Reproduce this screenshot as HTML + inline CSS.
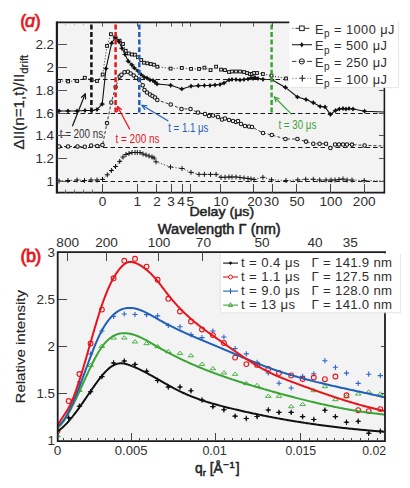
<!DOCTYPE html>
<html><head><meta charset="utf-8"><style>
html,body{margin:0;padding:0;background:#fff;width:410px;height:488px;overflow:hidden;position:relative;font-family:"Liberation Sans", sans-serif;}
</style></head><body>
<svg width="410" height="488" viewBox="0 0 410 488" style="position:absolute;left:0;top:0;font-family:'Liberation Sans', sans-serif">
<rect width="410" height="488" fill="#ffffff"/>
<rect x="57" y="23" width="327" height="170" fill="#f3f3f3"/>
<line x1="58" y1="79.5" x2="383" y2="79.5" stroke="#1a1a1a" stroke-width="1.1" stroke-dasharray="4.6 2.9"/>
<line x1="58" y1="113.5" x2="383" y2="113.5" stroke="#1a1a1a" stroke-width="1.1" stroke-dasharray="4.6 2.9"/>
<line x1="58" y1="147.5" x2="383" y2="147.5" stroke="#1a1a1a" stroke-width="1.1" stroke-dasharray="4.6 2.9"/>
<line x1="58" y1="181.5" x2="383" y2="181.5" stroke="#1a1a1a" stroke-width="1.1" stroke-dasharray="4.6 2.9"/>
<polyline points="59,181 68,180.5 77,180 84.5,180.5 91,180 97,180 102.5,179.4 107.3,174.8 111.4,170.5 115.5,166.5 119.7,161.4 123,157 126,154.5 129,153.5 132,152.5 135,152.5 137.3,152.5 140,152.5 143,154 146,155 149,156 152,157 154,158 156,161.8 170.5,167 182,168.5 191,172.4 199,174.4 204.4,174.4 210.5,174.4 216.1,174.4 221,177.3 225,177.3 229,177 232,177 236,177 240,177.5 244,178 248,178.5 251,179 254,179.5 262.9,177.3 271.5,179.8 286,180.5 297.8,179.9 305.7,179.3 313.3,179.3 319.7,180 326,180 331,180 335,180 339,179.5 343,179 347,180 352,180 364.2,180.5 384,181" fill="none" stroke="#333" stroke-width="0.9" stroke-dasharray="1.2 1.8"/>
<polyline points="59,146.5 68.1,146.5 77.5,146.5 84.8,146.8 91.2,145.5 97.3,146 102.5,145 107,123.1 111.3,102.4 115.6,87 119.6,76.6 121.4,74.8 124.5,72.3 127.9,71.7 130.6,73.5 133.7,75.4 136.2,77.8 139.2,79.7 142.7,85.3 144.5,90 147,92.5 150,94.5 152.5,96 155,97.5 157.3,100 170.7,104.5 181.5,108.9 190.5,109 198,112.5 205,114 209,116 213,115.5 218,117 222,119.5 225,118.5 229,120 233,121 236,122 238,121 241,124 245,126 249,126.5 252,127 263,133 271.8,135 285.4,139 297.4,139 306,141.6 313.3,143.8 319.6,143.8 326,143.8 330.4,147.9 335.1,144.4 339,144.4 343,144.4 347,144.4 352,144.6 364.6,145.4 384,146" fill="none" stroke="#222" stroke-width="0.9" stroke-dasharray="3 2"/>
<polyline points="59,81 68.1,81.4 77.1,81 84.8,77.8 91.7,80 97,81 102.7,74.5 107,45.9 110.9,34.2 115.3,37.3 119.6,40.7 123,44 125.7,50.8 128.8,53.5 131.9,54.5 134.9,54.7 138,57.2 141.2,60 144,62.7 147.3,63.3 150.7,64 154,64.7 157.3,66.7 170.6,68.6 181.8,67.9 191,68.9 199,68.9 204.4,67.7 210.5,70.1 216.1,66.7 221,69.6 225,70.1 229,72 232,71.5 236,71.5 240,71.5 244,72 247,73 250,74 252,74 254,73 257,73 262.9,74 271.5,75.7 286,78.5" fill="none" stroke="#333" stroke-width="0.9" stroke-dasharray="1.2 1.8"/>
<polyline points="59,111 68,111 77,111 85,110.5 91.7,110.5 97,109.5 102.2,104.1 106,68.6 111.6,43.2 115.3,37.3 119,41.6 122,48.3 125.1,54.5 128.2,61.2 131.9,64.9 134.3,68 138,71 141,74.5 144,77 147,78 150,80 153,80.5 155,82 157,84 170.7,85.3 181.8,89 191,86.2 198.3,85.7 204.4,85.5 210,85.5 215,85 220,84.5 224,83 229,80 232,79.5 236,79.5 240,80 244,79.5 248,79 251,78 253,78.5 255,77.5 258,78.5 263,79.3 271.5,79.5 285.4,87.4 297.4,97 306,99.5 313.3,102.7 320.2,106.5 325,107 330.4,114.4 335.5,110.6 339.3,109 343,108.5 346,109 349,108.5 353,109 364.6,111.2 384,112" fill="none" stroke="#111" stroke-width="1.1" />
<path d="M56.5,181h5M59,178.5v5" stroke="#151515" stroke-width="1"/>
<path d="M65.5,180.5h5M68,178v5" stroke="#151515" stroke-width="1"/>
<path d="M74.5,180h5M77,177.5v5" stroke="#151515" stroke-width="1"/>
<path d="M82,180.5h5M84.5,178v5" stroke="#151515" stroke-width="1"/>
<path d="M88.5,180h5M91,177.5v5" stroke="#151515" stroke-width="1"/>
<path d="M94.5,180h5M97,177.5v5" stroke="#151515" stroke-width="1"/>
<path d="M100,179.4h5M102.5,176.9v5" stroke="#151515" stroke-width="1"/>
<path d="M104.8,174.8h5M107.3,172.3v5" stroke="#151515" stroke-width="1"/>
<path d="M108.9,170.5h5M111.4,168v5" stroke="#151515" stroke-width="1"/>
<path d="M113,166.5h5M115.5,164v5" stroke="#151515" stroke-width="1"/>
<path d="M117.2,161.4h5M119.7,158.9v5" stroke="#151515" stroke-width="1"/>
<path d="M120.5,157h5M123,154.5v5" stroke="#151515" stroke-width="1"/>
<path d="M123.5,154.5h5M126,152v5" stroke="#151515" stroke-width="1"/>
<path d="M126.5,153.5h5M129,151v5" stroke="#151515" stroke-width="1"/>
<path d="M129.5,152.5h5M132,150v5" stroke="#151515" stroke-width="1"/>
<path d="M132.5,152.5h5M135,150v5" stroke="#151515" stroke-width="1"/>
<path d="M134.8,152.5h5M137.3,150v5" stroke="#151515" stroke-width="1"/>
<path d="M137.5,152.5h5M140,150v5" stroke="#151515" stroke-width="1"/>
<path d="M140.5,154h5M143,151.5v5" stroke="#151515" stroke-width="1"/>
<path d="M143.5,155h5M146,152.5v5" stroke="#151515" stroke-width="1"/>
<path d="M146.5,156h5M149,153.5v5" stroke="#151515" stroke-width="1"/>
<path d="M149.5,157h5M152,154.5v5" stroke="#151515" stroke-width="1"/>
<path d="M151.5,158h5M154,155.5v5" stroke="#151515" stroke-width="1"/>
<path d="M153.5,161.8h5M156,159.3v5" stroke="#151515" stroke-width="1"/>
<path d="M168,167h5M170.5,164.5v5" stroke="#151515" stroke-width="1"/>
<path d="M179.5,168.5h5M182,166v5" stroke="#151515" stroke-width="1"/>
<path d="M188.5,172.4h5M191,169.9v5" stroke="#151515" stroke-width="1"/>
<path d="M196.5,174.4h5M199,171.9v5" stroke="#151515" stroke-width="1"/>
<path d="M201.9,174.4h5M204.4,171.9v5" stroke="#151515" stroke-width="1"/>
<path d="M208,174.4h5M210.5,171.9v5" stroke="#151515" stroke-width="1"/>
<path d="M213.6,174.4h5M216.1,171.9v5" stroke="#151515" stroke-width="1"/>
<path d="M218.5,177.3h5M221,174.8v5" stroke="#151515" stroke-width="1"/>
<path d="M222.5,177.3h5M225,174.8v5" stroke="#151515" stroke-width="1"/>
<path d="M226.5,177h5M229,174.5v5" stroke="#151515" stroke-width="1"/>
<path d="M229.5,177h5M232,174.5v5" stroke="#151515" stroke-width="1"/>
<path d="M233.5,177h5M236,174.5v5" stroke="#151515" stroke-width="1"/>
<path d="M237.5,177.5h5M240,175v5" stroke="#151515" stroke-width="1"/>
<path d="M241.5,178h5M244,175.5v5" stroke="#151515" stroke-width="1"/>
<path d="M245.5,178.5h5M248,176v5" stroke="#151515" stroke-width="1"/>
<path d="M248.5,179h5M251,176.5v5" stroke="#151515" stroke-width="1"/>
<path d="M251.5,179.5h5M254,177v5" stroke="#151515" stroke-width="1"/>
<path d="M260.4,177.3h5M262.9,174.8v5" stroke="#151515" stroke-width="1"/>
<path d="M269,179.8h5M271.5,177.3v5" stroke="#151515" stroke-width="1"/>
<path d="M283.5,180.5h5M286,178v5" stroke="#151515" stroke-width="1"/>
<path d="M295.3,179.9h5M297.8,177.4v5" stroke="#151515" stroke-width="1"/>
<path d="M303.2,179.3h5M305.7,176.8v5" stroke="#151515" stroke-width="1"/>
<path d="M310.8,179.3h5M313.3,176.8v5" stroke="#151515" stroke-width="1"/>
<path d="M317.2,180h5M319.7,177.5v5" stroke="#151515" stroke-width="1"/>
<path d="M323.5,180h5M326,177.5v5" stroke="#151515" stroke-width="1"/>
<path d="M328.5,180h5M331,177.5v5" stroke="#151515" stroke-width="1"/>
<path d="M332.5,180h5M335,177.5v5" stroke="#151515" stroke-width="1"/>
<path d="M336.5,179.5h5M339,177v5" stroke="#151515" stroke-width="1"/>
<path d="M340.5,179h5M343,176.5v5" stroke="#151515" stroke-width="1"/>
<path d="M344.5,180h5M347,177.5v5" stroke="#151515" stroke-width="1"/>
<path d="M349.5,180h5M352,177.5v5" stroke="#151515" stroke-width="1"/>
<path d="M361.7,180.5h5M364.2,178v5" stroke="#151515" stroke-width="1"/>
<circle cx="59" cy="146.5" r="1.75" fill="#f3f3f3" stroke="#151515" stroke-width="1.05"/>
<circle cx="68.1" cy="146.5" r="1.75" fill="#f3f3f3" stroke="#151515" stroke-width="1.05"/>
<circle cx="77.5" cy="146.5" r="1.75" fill="#f3f3f3" stroke="#151515" stroke-width="1.05"/>
<circle cx="84.8" cy="146.8" r="1.75" fill="#f3f3f3" stroke="#151515" stroke-width="1.05"/>
<circle cx="91.2" cy="145.5" r="1.75" fill="#f3f3f3" stroke="#151515" stroke-width="1.05"/>
<circle cx="97.3" cy="146" r="1.75" fill="#f3f3f3" stroke="#151515" stroke-width="1.05"/>
<circle cx="102.5" cy="145" r="1.75" fill="#f3f3f3" stroke="#151515" stroke-width="1.05"/>
<circle cx="107" cy="123.1" r="1.75" fill="#f3f3f3" stroke="#151515" stroke-width="1.05"/>
<circle cx="111.3" cy="102.4" r="1.75" fill="#f3f3f3" stroke="#151515" stroke-width="1.05"/>
<circle cx="115.6" cy="87" r="1.75" fill="#f3f3f3" stroke="#151515" stroke-width="1.05"/>
<circle cx="119.6" cy="76.6" r="1.75" fill="#f3f3f3" stroke="#151515" stroke-width="1.05"/>
<circle cx="121.4" cy="74.8" r="1.75" fill="#f3f3f3" stroke="#151515" stroke-width="1.05"/>
<circle cx="124.5" cy="72.3" r="1.75" fill="#f3f3f3" stroke="#151515" stroke-width="1.05"/>
<circle cx="127.9" cy="71.7" r="1.75" fill="#f3f3f3" stroke="#151515" stroke-width="1.05"/>
<circle cx="130.6" cy="73.5" r="1.75" fill="#f3f3f3" stroke="#151515" stroke-width="1.05"/>
<circle cx="133.7" cy="75.4" r="1.75" fill="#f3f3f3" stroke="#151515" stroke-width="1.05"/>
<circle cx="136.2" cy="77.8" r="1.75" fill="#f3f3f3" stroke="#151515" stroke-width="1.05"/>
<circle cx="139.2" cy="79.7" r="1.75" fill="#f3f3f3" stroke="#151515" stroke-width="1.05"/>
<circle cx="142.7" cy="85.3" r="1.75" fill="#f3f3f3" stroke="#151515" stroke-width="1.05"/>
<circle cx="144.5" cy="90" r="1.75" fill="#f3f3f3" stroke="#151515" stroke-width="1.05"/>
<circle cx="147" cy="92.5" r="1.75" fill="#f3f3f3" stroke="#151515" stroke-width="1.05"/>
<circle cx="150" cy="94.5" r="1.75" fill="#f3f3f3" stroke="#151515" stroke-width="1.05"/>
<circle cx="152.5" cy="96" r="1.75" fill="#f3f3f3" stroke="#151515" stroke-width="1.05"/>
<circle cx="155" cy="97.5" r="1.75" fill="#f3f3f3" stroke="#151515" stroke-width="1.05"/>
<circle cx="157.3" cy="100" r="1.75" fill="#f3f3f3" stroke="#151515" stroke-width="1.05"/>
<circle cx="170.7" cy="104.5" r="1.75" fill="#f3f3f3" stroke="#151515" stroke-width="1.05"/>
<circle cx="181.5" cy="108.9" r="1.75" fill="#f3f3f3" stroke="#151515" stroke-width="1.05"/>
<circle cx="190.5" cy="109" r="1.75" fill="#f3f3f3" stroke="#151515" stroke-width="1.05"/>
<circle cx="198" cy="112.5" r="1.75" fill="#f3f3f3" stroke="#151515" stroke-width="1.05"/>
<circle cx="205" cy="114" r="1.75" fill="#f3f3f3" stroke="#151515" stroke-width="1.05"/>
<circle cx="209" cy="116" r="1.75" fill="#f3f3f3" stroke="#151515" stroke-width="1.05"/>
<circle cx="213" cy="115.5" r="1.75" fill="#f3f3f3" stroke="#151515" stroke-width="1.05"/>
<circle cx="218" cy="117" r="1.75" fill="#f3f3f3" stroke="#151515" stroke-width="1.05"/>
<circle cx="222" cy="119.5" r="1.75" fill="#f3f3f3" stroke="#151515" stroke-width="1.05"/>
<circle cx="225" cy="118.5" r="1.75" fill="#f3f3f3" stroke="#151515" stroke-width="1.05"/>
<circle cx="229" cy="120" r="1.75" fill="#f3f3f3" stroke="#151515" stroke-width="1.05"/>
<circle cx="233" cy="121" r="1.75" fill="#f3f3f3" stroke="#151515" stroke-width="1.05"/>
<circle cx="236" cy="122" r="1.75" fill="#f3f3f3" stroke="#151515" stroke-width="1.05"/>
<circle cx="238" cy="121" r="1.75" fill="#f3f3f3" stroke="#151515" stroke-width="1.05"/>
<circle cx="241" cy="124" r="1.75" fill="#f3f3f3" stroke="#151515" stroke-width="1.05"/>
<circle cx="245" cy="126" r="1.75" fill="#f3f3f3" stroke="#151515" stroke-width="1.05"/>
<circle cx="249" cy="126.5" r="1.75" fill="#f3f3f3" stroke="#151515" stroke-width="1.05"/>
<circle cx="252" cy="127" r="1.75" fill="#f3f3f3" stroke="#151515" stroke-width="1.05"/>
<circle cx="263" cy="133" r="1.75" fill="#f3f3f3" stroke="#151515" stroke-width="1.05"/>
<circle cx="271.8" cy="135" r="1.75" fill="#f3f3f3" stroke="#151515" stroke-width="1.05"/>
<circle cx="285.4" cy="139" r="1.75" fill="#f3f3f3" stroke="#151515" stroke-width="1.05"/>
<circle cx="297.4" cy="139" r="1.75" fill="#f3f3f3" stroke="#151515" stroke-width="1.05"/>
<circle cx="306" cy="141.6" r="1.75" fill="#f3f3f3" stroke="#151515" stroke-width="1.05"/>
<circle cx="313.3" cy="143.8" r="1.75" fill="#f3f3f3" stroke="#151515" stroke-width="1.05"/>
<circle cx="319.6" cy="143.8" r="1.75" fill="#f3f3f3" stroke="#151515" stroke-width="1.05"/>
<circle cx="326" cy="143.8" r="1.75" fill="#f3f3f3" stroke="#151515" stroke-width="1.05"/>
<circle cx="330.4" cy="147.9" r="1.75" fill="#f3f3f3" stroke="#151515" stroke-width="1.05"/>
<circle cx="335.1" cy="144.4" r="1.75" fill="#f3f3f3" stroke="#151515" stroke-width="1.05"/>
<circle cx="339" cy="144.4" r="1.75" fill="#f3f3f3" stroke="#151515" stroke-width="1.05"/>
<circle cx="343" cy="144.4" r="1.75" fill="#f3f3f3" stroke="#151515" stroke-width="1.05"/>
<circle cx="347" cy="144.4" r="1.75" fill="#f3f3f3" stroke="#151515" stroke-width="1.05"/>
<circle cx="352" cy="144.6" r="1.75" fill="#f3f3f3" stroke="#151515" stroke-width="1.05"/>
<circle cx="364.6" cy="145.4" r="1.75" fill="#f3f3f3" stroke="#151515" stroke-width="1.05"/>
<rect x="57.6" y="79.6" width="2.8" height="2.8" fill="#f3f3f3" stroke="#151515" stroke-width="1"/>
<rect x="66.7" y="80" width="2.8" height="2.8" fill="#f3f3f3" stroke="#151515" stroke-width="1"/>
<rect x="75.7" y="79.6" width="2.8" height="2.8" fill="#f3f3f3" stroke="#151515" stroke-width="1"/>
<rect x="83.4" y="76.4" width="2.8" height="2.8" fill="#f3f3f3" stroke="#151515" stroke-width="1"/>
<rect x="90.3" y="78.6" width="2.8" height="2.8" fill="#f3f3f3" stroke="#151515" stroke-width="1"/>
<rect x="95.6" y="79.6" width="2.8" height="2.8" fill="#f3f3f3" stroke="#151515" stroke-width="1"/>
<rect x="101.3" y="73.1" width="2.8" height="2.8" fill="#f3f3f3" stroke="#151515" stroke-width="1"/>
<rect x="105.6" y="44.5" width="2.8" height="2.8" fill="#f3f3f3" stroke="#151515" stroke-width="1"/>
<rect x="109.5" y="32.8" width="2.8" height="2.8" fill="#f3f3f3" stroke="#151515" stroke-width="1"/>
<rect x="113.9" y="35.9" width="2.8" height="2.8" fill="#f3f3f3" stroke="#151515" stroke-width="1"/>
<rect x="118.2" y="39.3" width="2.8" height="2.8" fill="#f3f3f3" stroke="#151515" stroke-width="1"/>
<rect x="121.6" y="42.6" width="2.8" height="2.8" fill="#f3f3f3" stroke="#151515" stroke-width="1"/>
<rect x="124.3" y="49.4" width="2.8" height="2.8" fill="#f3f3f3" stroke="#151515" stroke-width="1"/>
<rect x="127.4" y="52.1" width="2.8" height="2.8" fill="#f3f3f3" stroke="#151515" stroke-width="1"/>
<rect x="130.5" y="53.1" width="2.8" height="2.8" fill="#f3f3f3" stroke="#151515" stroke-width="1"/>
<rect x="133.5" y="53.3" width="2.8" height="2.8" fill="#f3f3f3" stroke="#151515" stroke-width="1"/>
<rect x="136.6" y="55.8" width="2.8" height="2.8" fill="#f3f3f3" stroke="#151515" stroke-width="1"/>
<rect x="139.8" y="58.6" width="2.8" height="2.8" fill="#f3f3f3" stroke="#151515" stroke-width="1"/>
<rect x="142.6" y="61.3" width="2.8" height="2.8" fill="#f3f3f3" stroke="#151515" stroke-width="1"/>
<rect x="145.9" y="61.9" width="2.8" height="2.8" fill="#f3f3f3" stroke="#151515" stroke-width="1"/>
<rect x="149.3" y="62.6" width="2.8" height="2.8" fill="#f3f3f3" stroke="#151515" stroke-width="1"/>
<rect x="152.6" y="63.3" width="2.8" height="2.8" fill="#f3f3f3" stroke="#151515" stroke-width="1"/>
<rect x="155.9" y="65.3" width="2.8" height="2.8" fill="#f3f3f3" stroke="#151515" stroke-width="1"/>
<rect x="169.2" y="67.2" width="2.8" height="2.8" fill="#f3f3f3" stroke="#151515" stroke-width="1"/>
<rect x="180.4" y="66.5" width="2.8" height="2.8" fill="#f3f3f3" stroke="#151515" stroke-width="1"/>
<rect x="189.6" y="67.5" width="2.8" height="2.8" fill="#f3f3f3" stroke="#151515" stroke-width="1"/>
<rect x="197.6" y="67.5" width="2.8" height="2.8" fill="#f3f3f3" stroke="#151515" stroke-width="1"/>
<rect x="203" y="66.3" width="2.8" height="2.8" fill="#f3f3f3" stroke="#151515" stroke-width="1"/>
<rect x="209.1" y="68.7" width="2.8" height="2.8" fill="#f3f3f3" stroke="#151515" stroke-width="1"/>
<rect x="214.7" y="65.3" width="2.8" height="2.8" fill="#f3f3f3" stroke="#151515" stroke-width="1"/>
<rect x="219.6" y="68.2" width="2.8" height="2.8" fill="#f3f3f3" stroke="#151515" stroke-width="1"/>
<rect x="223.6" y="68.7" width="2.8" height="2.8" fill="#f3f3f3" stroke="#151515" stroke-width="1"/>
<rect x="227.6" y="70.6" width="2.8" height="2.8" fill="#f3f3f3" stroke="#151515" stroke-width="1"/>
<rect x="230.6" y="70.1" width="2.8" height="2.8" fill="#f3f3f3" stroke="#151515" stroke-width="1"/>
<rect x="234.6" y="70.1" width="2.8" height="2.8" fill="#f3f3f3" stroke="#151515" stroke-width="1"/>
<rect x="238.6" y="70.1" width="2.8" height="2.8" fill="#f3f3f3" stroke="#151515" stroke-width="1"/>
<rect x="242.6" y="70.6" width="2.8" height="2.8" fill="#f3f3f3" stroke="#151515" stroke-width="1"/>
<rect x="245.6" y="71.6" width="2.8" height="2.8" fill="#f3f3f3" stroke="#151515" stroke-width="1"/>
<rect x="248.6" y="72.6" width="2.8" height="2.8" fill="#f3f3f3" stroke="#151515" stroke-width="1"/>
<rect x="250.6" y="72.6" width="2.8" height="2.8" fill="#f3f3f3" stroke="#151515" stroke-width="1"/>
<rect x="252.6" y="71.6" width="2.8" height="2.8" fill="#f3f3f3" stroke="#151515" stroke-width="1"/>
<rect x="255.6" y="71.6" width="2.8" height="2.8" fill="#f3f3f3" stroke="#151515" stroke-width="1"/>
<rect x="261.5" y="72.6" width="2.8" height="2.8" fill="#f3f3f3" stroke="#151515" stroke-width="1"/>
<rect x="270.1" y="74.3" width="2.8" height="2.8" fill="#f3f3f3" stroke="#151515" stroke-width="1"/>
<rect x="284.6" y="77.1" width="2.8" height="2.8" fill="#f3f3f3" stroke="#151515" stroke-width="1"/>
<path d="M59,108.4 L60.82,111 L59,113.6 L57.18,111 Z" fill="#111"/>
<path d="M56.4,111h5.2" stroke="#111" stroke-width="0.9"/>
<path d="M68,108.4 L69.82,111 L68,113.6 L66.18,111 Z" fill="#111"/>
<path d="M65.4,111h5.2" stroke="#111" stroke-width="0.9"/>
<path d="M77,108.4 L78.82,111 L77,113.6 L75.18,111 Z" fill="#111"/>
<path d="M74.4,111h5.2" stroke="#111" stroke-width="0.9"/>
<path d="M85,107.9 L86.82,110.5 L85,113.1 L83.18,110.5 Z" fill="#111"/>
<path d="M82.4,110.5h5.2" stroke="#111" stroke-width="0.9"/>
<path d="M91.7,107.9 L93.52,110.5 L91.7,113.1 L89.88,110.5 Z" fill="#111"/>
<path d="M89.1,110.5h5.2" stroke="#111" stroke-width="0.9"/>
<path d="M97,106.9 L98.82,109.5 L97,112.1 L95.18,109.5 Z" fill="#111"/>
<path d="M94.4,109.5h5.2" stroke="#111" stroke-width="0.9"/>
<path d="M102.2,101.5 L104.02,104.1 L102.2,106.7 L100.38,104.1 Z" fill="#111"/>
<path d="M99.6,104.1h5.2" stroke="#111" stroke-width="0.9"/>
<path d="M106,66 L107.82,68.6 L106,71.2 L104.18,68.6 Z" fill="#111"/>
<path d="M103.4,68.6h5.2" stroke="#111" stroke-width="0.9"/>
<path d="M111.6,40.6 L113.42,43.2 L111.6,45.8 L109.78,43.2 Z" fill="#111"/>
<path d="M109,43.2h5.2" stroke="#111" stroke-width="0.9"/>
<path d="M115.3,34.7 L117.12,37.3 L115.3,39.9 L113.48,37.3 Z" fill="#111"/>
<path d="M112.7,37.3h5.2" stroke="#111" stroke-width="0.9"/>
<path d="M119,39 L120.82,41.6 L119,44.2 L117.18,41.6 Z" fill="#111"/>
<path d="M116.4,41.6h5.2" stroke="#111" stroke-width="0.9"/>
<path d="M122,45.7 L123.82,48.3 L122,50.9 L120.18,48.3 Z" fill="#111"/>
<path d="M119.4,48.3h5.2" stroke="#111" stroke-width="0.9"/>
<path d="M125.1,51.9 L126.92,54.5 L125.1,57.1 L123.28,54.5 Z" fill="#111"/>
<path d="M122.5,54.5h5.2" stroke="#111" stroke-width="0.9"/>
<path d="M128.2,58.6 L130.02,61.2 L128.2,63.8 L126.38,61.2 Z" fill="#111"/>
<path d="M125.6,61.2h5.2" stroke="#111" stroke-width="0.9"/>
<path d="M131.9,62.3 L133.72,64.9 L131.9,67.5 L130.08,64.9 Z" fill="#111"/>
<path d="M129.3,64.9h5.2" stroke="#111" stroke-width="0.9"/>
<path d="M134.3,65.4 L136.12,68 L134.3,70.6 L132.48,68 Z" fill="#111"/>
<path d="M131.7,68h5.2" stroke="#111" stroke-width="0.9"/>
<path d="M138,68.4 L139.82,71 L138,73.6 L136.18,71 Z" fill="#111"/>
<path d="M135.4,71h5.2" stroke="#111" stroke-width="0.9"/>
<path d="M141,71.9 L142.82,74.5 L141,77.1 L139.18,74.5 Z" fill="#111"/>
<path d="M138.4,74.5h5.2" stroke="#111" stroke-width="0.9"/>
<path d="M144,74.4 L145.82,77 L144,79.6 L142.18,77 Z" fill="#111"/>
<path d="M141.4,77h5.2" stroke="#111" stroke-width="0.9"/>
<path d="M147,75.4 L148.82,78 L147,80.6 L145.18,78 Z" fill="#111"/>
<path d="M144.4,78h5.2" stroke="#111" stroke-width="0.9"/>
<path d="M150,77.4 L151.82,80 L150,82.6 L148.18,80 Z" fill="#111"/>
<path d="M147.4,80h5.2" stroke="#111" stroke-width="0.9"/>
<path d="M153,77.9 L154.82,80.5 L153,83.1 L151.18,80.5 Z" fill="#111"/>
<path d="M150.4,80.5h5.2" stroke="#111" stroke-width="0.9"/>
<path d="M155,79.4 L156.82,82 L155,84.6 L153.18,82 Z" fill="#111"/>
<path d="M152.4,82h5.2" stroke="#111" stroke-width="0.9"/>
<path d="M157,81.4 L158.82,84 L157,86.6 L155.18,84 Z" fill="#111"/>
<path d="M154.4,84h5.2" stroke="#111" stroke-width="0.9"/>
<path d="M170.7,82.7 L172.52,85.3 L170.7,87.9 L168.88,85.3 Z" fill="#111"/>
<path d="M168.1,85.3h5.2" stroke="#111" stroke-width="0.9"/>
<path d="M181.8,86.4 L183.62,89 L181.8,91.6 L179.98,89 Z" fill="#111"/>
<path d="M179.2,89h5.2" stroke="#111" stroke-width="0.9"/>
<path d="M191,83.6 L192.82,86.2 L191,88.8 L189.18,86.2 Z" fill="#111"/>
<path d="M188.4,86.2h5.2" stroke="#111" stroke-width="0.9"/>
<path d="M198.3,83.1 L200.12,85.7 L198.3,88.3 L196.48,85.7 Z" fill="#111"/>
<path d="M195.7,85.7h5.2" stroke="#111" stroke-width="0.9"/>
<path d="M204.4,82.9 L206.22,85.5 L204.4,88.1 L202.58,85.5 Z" fill="#111"/>
<path d="M201.8,85.5h5.2" stroke="#111" stroke-width="0.9"/>
<path d="M210,82.9 L211.82,85.5 L210,88.1 L208.18,85.5 Z" fill="#111"/>
<path d="M207.4,85.5h5.2" stroke="#111" stroke-width="0.9"/>
<path d="M215,82.4 L216.82,85 L215,87.6 L213.18,85 Z" fill="#111"/>
<path d="M212.4,85h5.2" stroke="#111" stroke-width="0.9"/>
<path d="M220,81.9 L221.82,84.5 L220,87.1 L218.18,84.5 Z" fill="#111"/>
<path d="M217.4,84.5h5.2" stroke="#111" stroke-width="0.9"/>
<path d="M224,80.4 L225.82,83 L224,85.6 L222.18,83 Z" fill="#111"/>
<path d="M221.4,83h5.2" stroke="#111" stroke-width="0.9"/>
<path d="M229,77.4 L230.82,80 L229,82.6 L227.18,80 Z" fill="#111"/>
<path d="M226.4,80h5.2" stroke="#111" stroke-width="0.9"/>
<path d="M232,76.9 L233.82,79.5 L232,82.1 L230.18,79.5 Z" fill="#111"/>
<path d="M229.4,79.5h5.2" stroke="#111" stroke-width="0.9"/>
<path d="M236,76.9 L237.82,79.5 L236,82.1 L234.18,79.5 Z" fill="#111"/>
<path d="M233.4,79.5h5.2" stroke="#111" stroke-width="0.9"/>
<path d="M240,77.4 L241.82,80 L240,82.6 L238.18,80 Z" fill="#111"/>
<path d="M237.4,80h5.2" stroke="#111" stroke-width="0.9"/>
<path d="M244,76.9 L245.82,79.5 L244,82.1 L242.18,79.5 Z" fill="#111"/>
<path d="M241.4,79.5h5.2" stroke="#111" stroke-width="0.9"/>
<path d="M248,76.4 L249.82,79 L248,81.6 L246.18,79 Z" fill="#111"/>
<path d="M245.4,79h5.2" stroke="#111" stroke-width="0.9"/>
<path d="M251,75.4 L252.82,78 L251,80.6 L249.18,78 Z" fill="#111"/>
<path d="M248.4,78h5.2" stroke="#111" stroke-width="0.9"/>
<path d="M253,75.9 L254.82,78.5 L253,81.1 L251.18,78.5 Z" fill="#111"/>
<path d="M250.4,78.5h5.2" stroke="#111" stroke-width="0.9"/>
<path d="M255,74.9 L256.82,77.5 L255,80.1 L253.18,77.5 Z" fill="#111"/>
<path d="M252.4,77.5h5.2" stroke="#111" stroke-width="0.9"/>
<path d="M258,75.9 L259.82,78.5 L258,81.1 L256.18,78.5 Z" fill="#111"/>
<path d="M255.4,78.5h5.2" stroke="#111" stroke-width="0.9"/>
<path d="M263,76.7 L264.82,79.3 L263,81.9 L261.18,79.3 Z" fill="#111"/>
<path d="M260.4,79.3h5.2" stroke="#111" stroke-width="0.9"/>
<path d="M271.5,76.9 L273.32,79.5 L271.5,82.1 L269.68,79.5 Z" fill="#111"/>
<path d="M268.9,79.5h5.2" stroke="#111" stroke-width="0.9"/>
<path d="M285.4,84.8 L287.22,87.4 L285.4,90 L283.58,87.4 Z" fill="#111"/>
<path d="M282.8,87.4h5.2" stroke="#111" stroke-width="0.9"/>
<path d="M297.4,94.4 L299.22,97 L297.4,99.6 L295.58,97 Z" fill="#111"/>
<path d="M294.8,97h5.2" stroke="#111" stroke-width="0.9"/>
<path d="M306,96.9 L307.82,99.5 L306,102.1 L304.18,99.5 Z" fill="#111"/>
<path d="M303.4,99.5h5.2" stroke="#111" stroke-width="0.9"/>
<path d="M313.3,100.1 L315.12,102.7 L313.3,105.3 L311.48,102.7 Z" fill="#111"/>
<path d="M310.7,102.7h5.2" stroke="#111" stroke-width="0.9"/>
<path d="M320.2,103.9 L322.02,106.5 L320.2,109.1 L318.38,106.5 Z" fill="#111"/>
<path d="M317.6,106.5h5.2" stroke="#111" stroke-width="0.9"/>
<path d="M325,104.4 L326.82,107 L325,109.6 L323.18,107 Z" fill="#111"/>
<path d="M322.4,107h5.2" stroke="#111" stroke-width="0.9"/>
<path d="M330.4,111.8 L332.22,114.4 L330.4,117 L328.58,114.4 Z" fill="#111"/>
<path d="M327.8,114.4h5.2" stroke="#111" stroke-width="0.9"/>
<path d="M335.5,108 L337.32,110.6 L335.5,113.2 L333.68,110.6 Z" fill="#111"/>
<path d="M332.9,110.6h5.2" stroke="#111" stroke-width="0.9"/>
<path d="M339.3,106.4 L341.12,109 L339.3,111.6 L337.48,109 Z" fill="#111"/>
<path d="M336.7,109h5.2" stroke="#111" stroke-width="0.9"/>
<path d="M343,105.9 L344.82,108.5 L343,111.1 L341.18,108.5 Z" fill="#111"/>
<path d="M340.4,108.5h5.2" stroke="#111" stroke-width="0.9"/>
<path d="M346,106.4 L347.82,109 L346,111.6 L344.18,109 Z" fill="#111"/>
<path d="M343.4,109h5.2" stroke="#111" stroke-width="0.9"/>
<path d="M349,105.9 L350.82,108.5 L349,111.1 L347.18,108.5 Z" fill="#111"/>
<path d="M346.4,108.5h5.2" stroke="#111" stroke-width="0.9"/>
<path d="M353,106.4 L354.82,109 L353,111.6 L351.18,109 Z" fill="#111"/>
<path d="M350.4,109h5.2" stroke="#111" stroke-width="0.9"/>
<path d="M364.6,108.6 L366.42,111.2 L364.6,113.8 L362.78,111.2 Z" fill="#111"/>
<path d="M362,111.2h5.2" stroke="#111" stroke-width="0.9"/>
<line x1="91.4" y1="24.5" x2="91.4" y2="113" stroke="#111" stroke-width="2.5" stroke-dasharray="4.9 2.65"/>
<line x1="115.6" y1="24.5" x2="115.6" y2="113" stroke="#e8141c" stroke-width="2.5" stroke-dasharray="4.9 2.65"/>
<line x1="139.3" y1="24.5" x2="139.3" y2="113" stroke="#1f5fb8" stroke-width="2.5" stroke-dasharray="4.9 2.65"/>
<line x1="271.6" y1="24.5" x2="271.6" y2="113" stroke="#3aa535" stroke-width="2.5" stroke-dasharray="4.9 2.65"/>
<line x1="72.4" y1="126.3" x2="85.2" y2="93.9" stroke="#111" stroke-width="1.2" />
<line x1="85.2" y1="93.9" x2="85.57" y2="98.89" stroke="#111" stroke-width="1.2" stroke-linecap="round"/>
<line x1="85.2" y1="93.9" x2="81.52" y2="97.29" stroke="#111" stroke-width="1.2" stroke-linecap="round"/>
<line x1="129.8" y1="129.4" x2="117.5" y2="106.5" stroke="#e8141c" stroke-width="1.2" />
<line x1="117.5" y1="106.5" x2="121.55" y2="109.44" stroke="#e8141c" stroke-width="1.2" stroke-linecap="round"/>
<line x1="117.5" y1="106.5" x2="117.71" y2="111.5" stroke="#e8141c" stroke-width="1.2" stroke-linecap="round"/>
<line x1="168.3" y1="120.9" x2="142" y2="105.3" stroke="#1f5fb8" stroke-width="1.2" />
<line x1="142" y1="105.3" x2="146.98" y2="105.73" stroke="#1f5fb8" stroke-width="1.2" stroke-linecap="round"/>
<line x1="142" y1="105.3" x2="144.76" y2="109.47" stroke="#1f5fb8" stroke-width="1.2" stroke-linecap="round"/>
<line x1="291.7" y1="114.4" x2="274.3" y2="97" stroke="#3aa535" stroke-width="1.2" />
<line x1="274.3" y1="97" x2="279.02" y2="98.65" stroke="#3aa535" stroke-width="1.2" stroke-linecap="round"/>
<line x1="274.3" y1="97" x2="275.95" y2="101.72" stroke="#3aa535" stroke-width="1.2" stroke-linecap="round"/>
<text x="59.7" y="138.2" font-size="12" text-anchor="start" fill="#333" font-weight="normal" font-style="normal" textLength="43.4" lengthAdjust="spacingAndGlyphs" >t = 200 ns</text>
<text x="115.5" y="142.6" font-size="12" text-anchor="start" fill="#e8141c" font-weight="normal" font-style="normal" textLength="44" lengthAdjust="spacingAndGlyphs" >t = 200 ns</text>
<text x="168.2" y="132.2" font-size="12" text-anchor="start" fill="#1f5fb8" font-weight="normal" font-style="normal" textLength="40.2" lengthAdjust="spacingAndGlyphs" >t = 1.1 &#956;s</text>
<text x="278.4" y="128.7" font-size="12" text-anchor="start" fill="#3aa535" font-weight="normal" font-style="normal" textLength="38" lengthAdjust="spacingAndGlyphs" >t = 30 &#956;s</text>
<path d="M57,22.3 H384.3 M57,192.7 H384.3" fill="none" stroke="#1c1c22" stroke-width="1.8"/>
<path d="M57,21.4 V193.6" fill="none" stroke="#1c1c22" stroke-width="2"/>
<path d="M384.4,21.4 V193.6" fill="none" stroke="#1c1c22" stroke-width="1.6"/>
<path d="M56,21.4 V193.6" stroke="#1c1c22" stroke-width="0.4"/>
<line x1="57" y1="181.5" x2="67" y2="181.5" stroke="#555" stroke-width="1" />
<line x1="379" y1="181.5" x2="384" y2="181.5" stroke="#555" stroke-width="1" />
<text x="54" y="186.4" font-size="13.4" text-anchor="end" fill="#2e2e2e" font-weight="normal" font-style="normal" >1</text>
<line x1="57" y1="158.5" x2="67" y2="158.5" stroke="#555" stroke-width="1" />
<line x1="379" y1="158.5" x2="384" y2="158.5" stroke="#555" stroke-width="1" />
<text x="54" y="163.4" font-size="13.4" text-anchor="end" fill="#2e2e2e" font-weight="normal" font-style="normal" >1.2</text>
<line x1="57" y1="135.5" x2="67" y2="135.5" stroke="#555" stroke-width="1" />
<line x1="379" y1="135.5" x2="384" y2="135.5" stroke="#555" stroke-width="1" />
<text x="54" y="140.4" font-size="13.4" text-anchor="end" fill="#2e2e2e" font-weight="normal" font-style="normal" >1.4</text>
<line x1="57" y1="113.5" x2="67" y2="113.5" stroke="#555" stroke-width="1" />
<line x1="379" y1="113.5" x2="384" y2="113.5" stroke="#555" stroke-width="1" />
<text x="54" y="118.4" font-size="13.4" text-anchor="end" fill="#2e2e2e" font-weight="normal" font-style="normal" >1.6</text>
<line x1="57" y1="90.5" x2="67" y2="90.5" stroke="#555" stroke-width="1" />
<line x1="379" y1="90.5" x2="384" y2="90.5" stroke="#555" stroke-width="1" />
<text x="54" y="95.4" font-size="13.4" text-anchor="end" fill="#2e2e2e" font-weight="normal" font-style="normal" >1.8</text>
<line x1="57" y1="67.5" x2="67" y2="67.5" stroke="#555" stroke-width="1" />
<line x1="379" y1="67.5" x2="384" y2="67.5" stroke="#555" stroke-width="1" />
<text x="54" y="72.4" font-size="13.4" text-anchor="end" fill="#2e2e2e" font-weight="normal" font-style="normal" >2</text>
<line x1="57" y1="44.5" x2="67" y2="44.5" stroke="#555" stroke-width="1" />
<line x1="379" y1="44.5" x2="384" y2="44.5" stroke="#555" stroke-width="1" />
<text x="54" y="49.4" font-size="13.4" text-anchor="end" fill="#2e2e2e" font-weight="normal" font-style="normal" >2.2</text>
<line x1="102.5" y1="193" x2="102.5" y2="184" stroke="#444" stroke-width="1" />
<line x1="102.5" y1="23" x2="102.5" y2="26.5" stroke="#555" stroke-width="1" />
<text x="102.6" y="205.7" font-size="13.6" text-anchor="middle" fill="#2e2e2e" font-weight="normal" font-style="normal" >0</text>
<line x1="137.5" y1="193" x2="137.5" y2="184" stroke="#444" stroke-width="1" />
<line x1="137.5" y1="23" x2="137.5" y2="26.5" stroke="#555" stroke-width="1" />
<text x="137.3" y="205.7" font-size="13.6" text-anchor="middle" fill="#2e2e2e" font-weight="normal" font-style="normal" >1</text>
<line x1="156.5" y1="193" x2="156.5" y2="184" stroke="#444" stroke-width="1" />
<line x1="156.5" y1="23" x2="156.5" y2="26.5" stroke="#555" stroke-width="1" />
<text x="157" y="205.7" font-size="13.6" text-anchor="middle" fill="#2e2e2e" font-weight="normal" font-style="normal" >2</text>
<line x1="171.5" y1="193" x2="171.5" y2="184" stroke="#444" stroke-width="1" />
<line x1="171.5" y1="23" x2="171.5" y2="26.5" stroke="#555" stroke-width="1" />
<text x="171" y="205.7" font-size="13.6" text-anchor="middle" fill="#2e2e2e" font-weight="normal" font-style="normal" >3</text>
<line x1="182.5" y1="193" x2="182.5" y2="184" stroke="#444" stroke-width="1" />
<line x1="182.5" y1="23" x2="182.5" y2="26.5" stroke="#555" stroke-width="1" />
<text x="181" y="205.7" font-size="13.6" text-anchor="middle" fill="#2e2e2e" font-weight="normal" font-style="normal" >4</text>
<line x1="190.5" y1="193" x2="190.5" y2="184" stroke="#444" stroke-width="1" />
<line x1="190.5" y1="23" x2="190.5" y2="26.5" stroke="#555" stroke-width="1" />
<text x="190.3" y="205.7" font-size="13.6" text-anchor="middle" fill="#2e2e2e" font-weight="normal" font-style="normal" >5</text>
<line x1="220.5" y1="193" x2="220.5" y2="184" stroke="#444" stroke-width="1" />
<line x1="220.5" y1="23" x2="220.5" y2="26.5" stroke="#555" stroke-width="1" />
<text x="220.9" y="205.7" font-size="13.6" text-anchor="middle" fill="#2e2e2e" font-weight="normal" font-style="normal" >10</text>
<line x1="253.5" y1="193" x2="253.5" y2="184" stroke="#444" stroke-width="1" />
<line x1="253.5" y1="23" x2="253.5" y2="26.5" stroke="#555" stroke-width="1" />
<text x="254.7" y="205.7" font-size="13.6" text-anchor="middle" fill="#2e2e2e" font-weight="normal" font-style="normal" >20</text>
<line x1="272.5" y1="193" x2="272.5" y2="184" stroke="#444" stroke-width="1" />
<line x1="272.5" y1="23" x2="272.5" y2="26.5" stroke="#555" stroke-width="1" />
<text x="271.4" y="205.7" font-size="13.6" text-anchor="middle" fill="#2e2e2e" font-weight="normal" font-style="normal" >30</text>
<line x1="296.5" y1="193" x2="296.5" y2="184" stroke="#444" stroke-width="1" />
<line x1="296.5" y1="23" x2="296.5" y2="26.5" stroke="#555" stroke-width="1" />
<text x="297" y="205.7" font-size="13.6" text-anchor="middle" fill="#2e2e2e" font-weight="normal" font-style="normal" >50</text>
<line x1="330.5" y1="193" x2="330.5" y2="184" stroke="#444" stroke-width="1" />
<line x1="330.5" y1="23" x2="330.5" y2="26.5" stroke="#555" stroke-width="1" />
<text x="330.9" y="205.7" font-size="13.6" text-anchor="middle" fill="#2e2e2e" font-weight="normal" font-style="normal" >100</text>
<line x1="364.5" y1="193" x2="364.5" y2="184" stroke="#444" stroke-width="1" />
<line x1="364.5" y1="23" x2="364.5" y2="26.5" stroke="#555" stroke-width="1" />
<text x="364.2" y="205.7" font-size="13.6" text-anchor="middle" fill="#2e2e2e" font-weight="normal" font-style="normal" >200</text>
<line x1="65.5" y1="193" x2="65.5" y2="189.5" stroke="#666" stroke-width="0.9" />
<line x1="65.5" y1="23.5" x2="65.5" y2="25.5" stroke="#aaa" stroke-width="0.7" />
<line x1="74.5" y1="193" x2="74.5" y2="189.5" stroke="#666" stroke-width="0.9" />
<line x1="74.5" y1="23.5" x2="74.5" y2="25.5" stroke="#aaa" stroke-width="0.7" />
<line x1="83.5" y1="193" x2="83.5" y2="189.5" stroke="#666" stroke-width="0.9" />
<line x1="83.5" y1="23.5" x2="83.5" y2="25.5" stroke="#aaa" stroke-width="0.7" />
<line x1="92.5" y1="193" x2="92.5" y2="189.5" stroke="#666" stroke-width="0.9" />
<line x1="92.5" y1="23.5" x2="92.5" y2="25.5" stroke="#aaa" stroke-width="0.7" />
<rect x="289.3" y="20" width="108.7" height="67.1" fill="#ffffff"/>
<path d="M398.5,21 V87.6 H290" fill="none" stroke="#e6e6e6" stroke-width="1"/>
<circle cx="293" cy="28.3" r="0.55" fill="#333"/>
<line x1="295.5" y1="28.3" x2="309.5" y2="28.3" stroke="#333" stroke-width="1" />
<rect x="299.6" y="26" width="4.6" height="4.6" fill="#fff" stroke="#222" stroke-width="1"/>
<line x1="292" y1="44.7" x2="312" y2="44.7" stroke="#222" stroke-width="1.1" />
<path d="M301.8,41.9 L303.6,44.7 L301.8,47.5 L300,44.7 Z" fill="#111"/>
<line x1="292" y1="61.4" x2="296.4" y2="61.4" stroke="#333" stroke-width="1" />
<line x1="307.2" y1="61.4" x2="312" y2="61.4" stroke="#333" stroke-width="1" />
<circle cx="301.8" cy="61.4" r="2.6" fill="#ffffff" stroke="#222" stroke-width="1"/>
<line x1="299.2" y1="61.4" x2="304.4" y2="61.4" stroke="#222" stroke-width="0.9" />
<circle cx="292.9" cy="78.3" r="0.55" fill="#333"/>
<circle cx="296.1" cy="78.3" r="0.55" fill="#333"/>
<circle cx="307.9" cy="78.3" r="0.55" fill="#333"/>
<circle cx="310.6" cy="78.3" r="0.55" fill="#333"/>
<path d="M299.1,78.3h6.4M302.3,75.1v6.4" stroke="#222" stroke-width="1.1"/>
<text x="315" y="33.7" font-size="12.8" fill="#2e2e2e" letter-spacing="0.45">E<tspan font-size="10" dy="3.5">p</tspan><tspan dy="-3.5"> = 1000 &#956;J</tspan></text>
<text x="315" y="50.1" font-size="12.8" fill="#2e2e2e" letter-spacing="0.45">E<tspan font-size="10" dy="3.5">p</tspan><tspan dy="-3.5"> = 500 &#956;J</tspan></text>
<text x="315" y="66.8" font-size="12.8" fill="#2e2e2e" letter-spacing="0.45">E<tspan font-size="10" dy="3.5">p</tspan><tspan dy="-3.5"> = 250 &#956;J</tspan></text>
<text x="315" y="83.7" font-size="12.8" fill="#2e2e2e" letter-spacing="0.45">E<tspan font-size="10" dy="3.5">p</tspan><tspan dy="-3.5"> = 100 &#956;J</tspan></text>
<text x="189.4" y="216.3" font-size="13.6" text-anchor="start" fill="#222" font-weight="normal" font-style="normal" textLength="64.7" lengthAdjust="spacingAndGlyphs" stroke="#222" stroke-width="0.5">Delay (&#956;s)</text>
<text x="157.8" y="233.9" font-size="13.8" text-anchor="start" fill="#222" font-weight="normal" font-style="normal" textLength="122.9" lengthAdjust="spacingAndGlyphs" stroke="#222" stroke-width="0.5">Wavelength &#915; (nm)</text>
<text transform="translate(23.8,149.5) rotate(-90)" x="0" y="0" font-size="14" fill="#222" stroke="#222" stroke-width="0.2" textLength="94.8" lengthAdjust="spacingAndGlyphs">&#916;II(n=1,t)/II<tspan font-size="10.5" dy="4">drift</tspan></text>
<text y="27.4" font-size="18" fill="#e8141c" stroke="#e8141c" stroke-width="0.7"><tspan x="20.2">(</tspan><tspan x="25" font-style="italic">&#593;</tspan><tspan x="34.8">)</tspan></text>
<rect x="58" y="252" width="327" height="189" fill="#f3f3f3"/>
<clipPath id="cb"><rect x="58" y="252" width="327" height="189"/></clipPath>
<g clip-path="url(#cb)">
<path d="M76.8,382h5.2M79.4,379.4v5.2" stroke="#2f66c8" stroke-width="1.1"/>
<path d="M88,354h5.2M90.6,351.4v5.2" stroke="#2f66c8" stroke-width="1.1"/>
<path d="M99.3,331h5.2M101.9,328.4v5.2" stroke="#2f66c8" stroke-width="1.1"/>
<path d="M111,316.4h5.2M113.6,313.8v5.2" stroke="#2f66c8" stroke-width="1.1"/>
<path d="M121.7,314h5.2M124.3,311.4v5.2" stroke="#2f66c8" stroke-width="1.1"/>
<path d="M132.4,314.5h5.2M135,311.9v5.2" stroke="#2f66c8" stroke-width="1.1"/>
<path d="M144,314.6h5.2M146.6,312v5.2" stroke="#2f66c8" stroke-width="1.1"/>
<path d="M155,315.9h5.2M157.6,313.3v5.2" stroke="#2f66c8" stroke-width="1.1"/>
<path d="M165.7,325.5h5.2M168.3,322.9v5.2" stroke="#2f66c8" stroke-width="1.1"/>
<path d="M177.4,326.8h5.2M180,324.2v5.2" stroke="#2f66c8" stroke-width="1.1"/>
<path d="M188.4,334.6h5.2M191,332v5.2" stroke="#2f66c8" stroke-width="1.1"/>
<path d="M199.4,337.6h5.2M202,335v5.2" stroke="#2f66c8" stroke-width="1.1"/>
<path d="M210.3,331h5.2M212.9,328.4v5.2" stroke="#2f66c8" stroke-width="1.1"/>
<path d="M221.3,337h5.2M223.9,334.4v5.2" stroke="#2f66c8" stroke-width="1.1"/>
<path d="M232.5,348.5h5.2M235.1,345.9v5.2" stroke="#2f66c8" stroke-width="1.1"/>
<path d="M243.7,353.9h5.2M246.3,351.3v5.2" stroke="#2f66c8" stroke-width="1.1"/>
<path d="M254.5,362.4h5.2M257.1,359.8v5.2" stroke="#2f66c8" stroke-width="1.1"/>
<path d="M265.7,372.9h5.2M268.3,370.3v5.2" stroke="#2f66c8" stroke-width="1.1"/>
<path d="M276.4,383.2h5.2M279,380.6v5.2" stroke="#2f66c8" stroke-width="1.1"/>
<path d="M288.6,388h5.2M291.2,385.4v5.2" stroke="#2f66c8" stroke-width="1.1"/>
<path d="M300,376.4h5.2M302.6,373.8v5.2" stroke="#2f66c8" stroke-width="1.1"/>
<path d="M311.2,373.8h5.2M313.8,371.2v5.2" stroke="#2f66c8" stroke-width="1.1"/>
<path d="M322.3,360.7h5.2M324.9,358.1v5.2" stroke="#2f66c8" stroke-width="1.1"/>
<path d="M332.8,367.3h5.2M335.4,364.7v5.2" stroke="#2f66c8" stroke-width="1.1"/>
<path d="M343.9,373.1h5.2M346.5,370.5v5.2" stroke="#2f66c8" stroke-width="1.1"/>
<path d="M355.6,383.4h5.2M358.2,380.8v5.2" stroke="#2f66c8" stroke-width="1.1"/>
<path d="M366.1,374.2h5.2M368.7,371.6v5.2" stroke="#2f66c8" stroke-width="1.1"/>
<path d="M377.7,375.6h5.2M380.3,373v5.2" stroke="#2f66c8" stroke-width="1.1"/>
<path d="M57.5,433.44 L60.3,436.76 L54.7,436.76 Z" fill="none" stroke="#45ad3a" stroke-width="0.95"/>
<path d="M79.4,388.14 L82.2,391.46 L76.6,391.46 Z" fill="none" stroke="#45ad3a" stroke-width="0.95"/>
<path d="M90.6,363.14 L93.4,366.46 L87.8,366.46 Z" fill="none" stroke="#45ad3a" stroke-width="0.95"/>
<path d="M101.9,344.14 L104.7,347.46 L99.1,347.46 Z" fill="none" stroke="#45ad3a" stroke-width="0.95"/>
<path d="M113.6,335.74 L116.4,339.06 L110.8,339.06 Z" fill="none" stroke="#45ad3a" stroke-width="0.95"/>
<path d="M124.3,335.74 L127.1,339.06 L121.5,339.06 Z" fill="none" stroke="#45ad3a" stroke-width="0.95"/>
<path d="M135,339.64 L137.8,342.96 L132.2,342.96 Z" fill="none" stroke="#45ad3a" stroke-width="0.95"/>
<path d="M146.6,341.34 L149.4,344.66 L143.8,344.66 Z" fill="none" stroke="#45ad3a" stroke-width="0.95"/>
<path d="M157.6,344.44 L160.4,347.76 L154.8,347.76 Z" fill="none" stroke="#45ad3a" stroke-width="0.95"/>
<path d="M168.3,349.34 L171.1,352.66 L165.5,352.66 Z" fill="none" stroke="#45ad3a" stroke-width="0.95"/>
<path d="M180,351.14 L182.8,354.46 L177.2,354.46 Z" fill="none" stroke="#45ad3a" stroke-width="0.95"/>
<path d="M191,353.54 L193.8,356.86 L188.2,356.86 Z" fill="none" stroke="#45ad3a" stroke-width="0.95"/>
<path d="M202,362.04 L204.8,365.36 L199.2,365.36 Z" fill="none" stroke="#45ad3a" stroke-width="0.95"/>
<path d="M212.9,366.44 L215.7,369.76 L210.1,369.76 Z" fill="none" stroke="#45ad3a" stroke-width="0.95"/>
<path d="M223.9,370.64 L226.7,373.96 L221.1,373.96 Z" fill="none" stroke="#45ad3a" stroke-width="0.95"/>
<path d="M235.1,372.04 L237.9,375.36 L232.3,375.36 Z" fill="none" stroke="#45ad3a" stroke-width="0.95"/>
<path d="M246.3,381.34 L249.1,384.66 L243.5,384.66 Z" fill="none" stroke="#45ad3a" stroke-width="0.95"/>
<path d="M257.1,383.24 L259.9,386.56 L254.3,386.56 Z" fill="none" stroke="#45ad3a" stroke-width="0.95"/>
<path d="M268.3,394.04 L271.1,397.36 L265.5,397.36 Z" fill="none" stroke="#45ad3a" stroke-width="0.95"/>
<path d="M279,394.04 L281.8,397.36 L276.2,397.36 Z" fill="none" stroke="#45ad3a" stroke-width="0.95"/>
<path d="M291.2,404.44 L294,407.76 L288.4,407.76 Z" fill="none" stroke="#45ad3a" stroke-width="0.95"/>
<path d="M302.6,402.24 L305.4,405.56 L299.8,405.56 Z" fill="none" stroke="#45ad3a" stroke-width="0.95"/>
<path d="M313.8,388.34 L316.6,391.66 L311,391.66 Z" fill="none" stroke="#45ad3a" stroke-width="0.95"/>
<path d="M324.9,384.34 L327.7,387.66 L322.1,387.66 Z" fill="none" stroke="#45ad3a" stroke-width="0.95"/>
<path d="M335.4,397.34 L338.2,400.66 L332.6,400.66 Z" fill="none" stroke="#45ad3a" stroke-width="0.95"/>
<path d="M346.5,394.54 L349.3,397.86 L343.7,397.86 Z" fill="none" stroke="#45ad3a" stroke-width="0.95"/>
<path d="M358.2,391.74 L361,395.06 L355.4,395.06 Z" fill="none" stroke="#45ad3a" stroke-width="0.95"/>
<path d="M368.7,389.84 L371.5,393.16 L365.9,393.16 Z" fill="none" stroke="#45ad3a" stroke-width="0.95"/>
<path d="M380.3,391.74 L383.1,395.06 L377.5,395.06 Z" fill="none" stroke="#45ad3a" stroke-width="0.95"/>
<circle cx="57.5" cy="431.2" r="2.4" fill="none" stroke="#e8141c" stroke-width="1.1"/>
<circle cx="68.7" cy="401" r="2.4" fill="none" stroke="#e8141c" stroke-width="1.1"/>
<circle cx="79.4" cy="374" r="2.4" fill="none" stroke="#e8141c" stroke-width="1.1"/>
<circle cx="90.6" cy="343.5" r="2.4" fill="none" stroke="#e8141c" stroke-width="1.1"/>
<circle cx="101.9" cy="309.6" r="2.4" fill="none" stroke="#e8141c" stroke-width="1.1"/>
<circle cx="113.6" cy="278.3" r="2.4" fill="none" stroke="#e8141c" stroke-width="1.1"/>
<circle cx="124.3" cy="260.8" r="2.4" fill="none" stroke="#e8141c" stroke-width="1.1"/>
<circle cx="135" cy="258.8" r="2.4" fill="none" stroke="#e8141c" stroke-width="1.1"/>
<circle cx="146.6" cy="266.6" r="2.4" fill="none" stroke="#e8141c" stroke-width="1.1"/>
<circle cx="157.6" cy="279.8" r="2.4" fill="none" stroke="#e8141c" stroke-width="1.1"/>
<circle cx="168.3" cy="298.8" r="2.4" fill="none" stroke="#e8141c" stroke-width="1.1"/>
<circle cx="180" cy="311.5" r="2.4" fill="none" stroke="#e8141c" stroke-width="1.1"/>
<circle cx="191" cy="321.5" r="2.4" fill="none" stroke="#e8141c" stroke-width="1.1"/>
<circle cx="202" cy="329.5" r="2.4" fill="none" stroke="#e8141c" stroke-width="1.1"/>
<circle cx="212.9" cy="335.1" r="2.4" fill="none" stroke="#e8141c" stroke-width="1.1"/>
<circle cx="223.9" cy="343" r="2.4" fill="none" stroke="#e8141c" stroke-width="1.1"/>
<circle cx="235.1" cy="357.6" r="2.4" fill="none" stroke="#e8141c" stroke-width="1.1"/>
<circle cx="246.3" cy="364.1" r="2.4" fill="none" stroke="#e8141c" stroke-width="1.1"/>
<circle cx="257.1" cy="364.9" r="2.4" fill="none" stroke="#e8141c" stroke-width="1.1"/>
<circle cx="268.3" cy="369" r="2.4" fill="none" stroke="#e8141c" stroke-width="1.1"/>
<circle cx="279" cy="372.9" r="2.4" fill="none" stroke="#e8141c" stroke-width="1.1"/>
<circle cx="291.2" cy="375.4" r="2.4" fill="none" stroke="#e8141c" stroke-width="1.1"/>
<circle cx="302.6" cy="379" r="2.4" fill="none" stroke="#e8141c" stroke-width="1.1"/>
<circle cx="313.8" cy="377.5" r="2.4" fill="none" stroke="#e8141c" stroke-width="1.1"/>
<circle cx="324.9" cy="379.2" r="2.4" fill="none" stroke="#e8141c" stroke-width="1.1"/>
<circle cx="335.4" cy="376.5" r="2.4" fill="none" stroke="#e8141c" stroke-width="1.1"/>
<circle cx="346.5" cy="395.3" r="2.4" fill="none" stroke="#e8141c" stroke-width="1.1"/>
<circle cx="358.2" cy="410.2" r="2.4" fill="none" stroke="#e8141c" stroke-width="1.1"/>
<circle cx="368.7" cy="411.1" r="2.4" fill="none" stroke="#e8141c" stroke-width="1.1"/>
<circle cx="380.3" cy="409.1" r="2.4" fill="none" stroke="#e8141c" stroke-width="1.1"/>
<path d="M68.7,415.1 Q68.7,417.8 71.4,417.8 Q68.7,417.8 68.7,420.5 Q68.7,417.8 66,417.8 Q68.7,417.8 68.7,415.1 Z" fill="#111"/>
<path d="M66,417.8h5.4M68.7,415.1v5.4" stroke="#111" stroke-width="1.1"/>
<path d="M68.7,416.2L70.3,417.8L68.7,419.4L67.1,417.8Z" fill="#111"/>
<path d="M79.4,403.6 Q79.4,406.3 82.1,406.3 Q79.4,406.3 79.4,409 Q79.4,406.3 76.7,406.3 Q79.4,406.3 79.4,403.6 Z" fill="#111"/>
<path d="M76.7,406.3h5.4M79.4,403.6v5.4" stroke="#111" stroke-width="1.1"/>
<path d="M79.4,404.7L81,406.3L79.4,407.9L77.8,406.3Z" fill="#111"/>
<path d="M90.6,389 Q90.6,391.7 93.3,391.7 Q90.6,391.7 90.6,394.4 Q90.6,391.7 87.9,391.7 Q90.6,391.7 90.6,389 Z" fill="#111"/>
<path d="M87.9,391.7h5.4M90.6,389v5.4" stroke="#111" stroke-width="1.1"/>
<path d="M90.6,390.1L92.2,391.7L90.6,393.3L89,391.7Z" fill="#111"/>
<path d="M101.9,373.9 Q101.9,376.6 104.6,376.6 Q101.9,376.6 101.9,379.3 Q101.9,376.6 99.2,376.6 Q101.9,376.6 101.9,373.9 Z" fill="#111"/>
<path d="M99.2,376.6h5.4M101.9,373.9v5.4" stroke="#111" stroke-width="1.1"/>
<path d="M101.9,375L103.5,376.6L101.9,378.2L100.3,376.6Z" fill="#111"/>
<path d="M113.6,360.3 Q113.6,363 116.3,363 Q113.6,363 113.6,365.7 Q113.6,363 110.9,363 Q113.6,363 113.6,360.3 Z" fill="#111"/>
<path d="M110.9,363h5.4M113.6,360.3v5.4" stroke="#111" stroke-width="1.1"/>
<path d="M113.6,361.4L115.2,363L113.6,364.6L112,363Z" fill="#111"/>
<path d="M124.3,358.3 Q124.3,361 127,361 Q124.3,361 124.3,363.7 Q124.3,361 121.6,361 Q124.3,361 124.3,358.3 Z" fill="#111"/>
<path d="M121.6,361h5.4M124.3,358.3v5.4" stroke="#111" stroke-width="1.1"/>
<path d="M124.3,359.4L125.9,361L124.3,362.6L122.7,361Z" fill="#111"/>
<path d="M135,361.7 Q135,364.4 137.7,364.4 Q135,364.4 135,367.1 Q135,364.4 132.3,364.4 Q135,364.4 135,361.7 Z" fill="#111"/>
<path d="M132.3,364.4h5.4M135,361.7v5.4" stroke="#111" stroke-width="1.1"/>
<path d="M135,362.8L136.6,364.4L135,366L133.4,364.4Z" fill="#111"/>
<path d="M146.6,368.5 Q146.6,371.2 149.3,371.2 Q146.6,371.2 146.6,373.9 Q146.6,371.2 143.9,371.2 Q146.6,371.2 146.6,368.5 Z" fill="#111"/>
<path d="M143.9,371.2h5.4M146.6,368.5v5.4" stroke="#111" stroke-width="1.1"/>
<path d="M146.6,369.6L148.2,371.2L146.6,372.8L145,371.2Z" fill="#111"/>
<path d="M157.6,377.8 Q157.6,380.5 160.3,380.5 Q157.6,380.5 157.6,383.2 Q157.6,380.5 154.9,380.5 Q157.6,380.5 157.6,377.8 Z" fill="#111"/>
<path d="M154.9,380.5h5.4M157.6,377.8v5.4" stroke="#111" stroke-width="1.1"/>
<path d="M157.6,378.9L159.2,380.5L157.6,382.1L156,380.5Z" fill="#111"/>
<path d="M168.3,384.3 Q168.3,387 171,387 Q168.3,387 168.3,389.7 Q168.3,387 165.6,387 Q168.3,387 168.3,384.3 Z" fill="#111"/>
<path d="M165.6,387h5.4M168.3,384.3v5.4" stroke="#111" stroke-width="1.1"/>
<path d="M168.3,385.4L169.9,387L168.3,388.6L166.7,387Z" fill="#111"/>
<path d="M180,384.3 Q180,387 182.7,387 Q180,387 180,389.7 Q180,387 177.3,387 Q180,387 180,384.3 Z" fill="#111"/>
<path d="M177.3,387h5.4M180,384.3v5.4" stroke="#111" stroke-width="1.1"/>
<path d="M180,385.4L181.6,387L180,388.6L178.4,387Z" fill="#111"/>
<path d="M191,388 Q191,390.7 193.7,390.7 Q191,390.7 191,393.4 Q191,390.7 188.3,390.7 Q191,390.7 191,388 Z" fill="#111"/>
<path d="M188.3,390.7h5.4M191,388v5.4" stroke="#111" stroke-width="1.1"/>
<path d="M191,389.1L192.6,390.7L191,392.3L189.4,390.7Z" fill="#111"/>
<path d="M202,397.3 Q202,400 204.7,400 Q202,400 202,402.7 Q202,400 199.3,400 Q202,400 202,397.3 Z" fill="#111"/>
<path d="M199.3,400h5.4M202,397.3v5.4" stroke="#111" stroke-width="1.1"/>
<path d="M202,398.4L203.6,400L202,401.6L200.4,400Z" fill="#111"/>
<path d="M212.9,403.9 Q212.9,406.6 215.6,406.6 Q212.9,406.6 212.9,409.3 Q212.9,406.6 210.2,406.6 Q212.9,406.6 212.9,403.9 Z" fill="#111"/>
<path d="M210.2,406.6h5.4M212.9,403.9v5.4" stroke="#111" stroke-width="1.1"/>
<path d="M212.9,405L214.5,406.6L212.9,408.2L211.3,406.6Z" fill="#111"/>
<path d="M223.9,407 Q223.9,409.7 226.6,409.7 Q223.9,409.7 223.9,412.4 Q223.9,409.7 221.2,409.7 Q223.9,409.7 223.9,407 Z" fill="#111"/>
<path d="M221.2,409.7h5.4M223.9,407v5.4" stroke="#111" stroke-width="1.1"/>
<path d="M223.9,408.1L225.5,409.7L223.9,411.3L222.3,409.7Z" fill="#111"/>
<path d="M235.1,413.4 Q235.1,416.1 237.8,416.1 Q235.1,416.1 235.1,418.8 Q235.1,416.1 232.4,416.1 Q235.1,416.1 235.1,413.4 Z" fill="#111"/>
<path d="M232.4,416.1h5.4M235.1,413.4v5.4" stroke="#111" stroke-width="1.1"/>
<path d="M235.1,414.5L236.7,416.1L235.1,417.7L233.5,416.1Z" fill="#111"/>
<path d="M246.3,415.8 Q246.3,418.5 249,418.5 Q246.3,418.5 246.3,421.2 Q246.3,418.5 243.6,418.5 Q246.3,418.5 246.3,415.8 Z" fill="#111"/>
<path d="M243.6,418.5h5.4M246.3,415.8v5.4" stroke="#111" stroke-width="1.1"/>
<path d="M246.3,416.9L247.9,418.5L246.3,420.1L244.7,418.5Z" fill="#111"/>
<path d="M257.1,413.8 Q257.1,416.5 259.8,416.5 Q257.1,416.5 257.1,419.2 Q257.1,416.5 254.4,416.5 Q257.1,416.5 257.1,413.8 Z" fill="#111"/>
<path d="M254.4,416.5h5.4M257.1,413.8v5.4" stroke="#111" stroke-width="1.1"/>
<path d="M257.1,414.9L258.7,416.5L257.1,418.1L255.5,416.5Z" fill="#111"/>
<path d="M268.3,407.3 Q268.3,410 271,410 Q268.3,410 268.3,412.7 Q268.3,410 265.6,410 Q268.3,410 268.3,407.3 Z" fill="#111"/>
<path d="M265.6,410h5.4M268.3,407.3v5.4" stroke="#111" stroke-width="1.1"/>
<path d="M268.3,408.4L269.9,410L268.3,411.6L266.7,410Z" fill="#111"/>
<path d="M279,409.7 Q279,412.4 281.7,412.4 Q279,412.4 279,415.1 Q279,412.4 276.3,412.4 Q279,412.4 279,409.7 Z" fill="#111"/>
<path d="M276.3,412.4h5.4M279,409.7v5.4" stroke="#111" stroke-width="1.1"/>
<path d="M279,410.8L280.6,412.4L279,414L277.4,412.4Z" fill="#111"/>
<path d="M291.2,409.7 Q291.2,412.4 293.9,412.4 Q291.2,412.4 291.2,415.1 Q291.2,412.4 288.5,412.4 Q291.2,412.4 291.2,409.7 Z" fill="#111"/>
<path d="M288.5,412.4h5.4M291.2,409.7v5.4" stroke="#111" stroke-width="1.1"/>
<path d="M291.2,410.8L292.8,412.4L291.2,414L289.6,412.4Z" fill="#111"/>
<path d="M302.6,413.9 Q302.6,416.6 305.3,416.6 Q302.6,416.6 302.6,419.3 Q302.6,416.6 299.9,416.6 Q302.6,416.6 302.6,413.9 Z" fill="#111"/>
<path d="M299.9,416.6h5.4M302.6,413.9v5.4" stroke="#111" stroke-width="1.1"/>
<path d="M302.6,415L304.2,416.6L302.6,418.2L301,416.6Z" fill="#111"/>
<path d="M313.8,416.8 Q313.8,419.5 316.5,419.5 Q313.8,419.5 313.8,422.2 Q313.8,419.5 311.1,419.5 Q313.8,419.5 313.8,416.8 Z" fill="#111"/>
<path d="M311.1,419.5h5.4M313.8,416.8v5.4" stroke="#111" stroke-width="1.1"/>
<path d="M313.8,417.9L315.4,419.5L313.8,421.1L312.2,419.5Z" fill="#111"/>
<path d="M324.9,407.5 Q324.9,410.2 327.6,410.2 Q324.9,410.2 324.9,412.9 Q324.9,410.2 322.2,410.2 Q324.9,410.2 324.9,407.5 Z" fill="#111"/>
<path d="M322.2,410.2h5.4M324.9,407.5v5.4" stroke="#111" stroke-width="1.1"/>
<path d="M324.9,408.6L326.5,410.2L324.9,411.8L323.3,410.2Z" fill="#111"/>
<path d="M335.4,413.9 Q335.4,416.6 338.1,416.6 Q335.4,416.6 335.4,419.3 Q335.4,416.6 332.7,416.6 Q335.4,416.6 335.4,413.9 Z" fill="#111"/>
<path d="M332.7,416.6h5.4M335.4,413.9v5.4" stroke="#111" stroke-width="1.1"/>
<path d="M335.4,415L337,416.6L335.4,418.2L333.8,416.6Z" fill="#111"/>
<path d="M346.5,419.5 Q346.5,422.2 349.2,422.2 Q346.5,422.2 346.5,424.9 Q346.5,422.2 343.8,422.2 Q346.5,422.2 346.5,419.5 Z" fill="#111"/>
<path d="M343.8,422.2h5.4M346.5,419.5v5.4" stroke="#111" stroke-width="1.1"/>
<path d="M346.5,420.6L348.1,422.2L346.5,423.8L344.9,422.2Z" fill="#111"/>
<path d="M358.2,418.6 Q358.2,421.3 360.9,421.3 Q358.2,421.3 358.2,424 Q358.2,421.3 355.5,421.3 Q358.2,421.3 358.2,418.6 Z" fill="#111"/>
<path d="M355.5,421.3h5.4M358.2,418.6v5.4" stroke="#111" stroke-width="1.1"/>
<path d="M358.2,419.7L359.8,421.3L358.2,422.9L356.6,421.3Z" fill="#111"/>
<path d="M368.7,430.5 Q368.7,433.2 371.4,433.2 Q368.7,433.2 368.7,435.9 Q368.7,433.2 366,433.2 Q368.7,433.2 368.7,430.5 Z" fill="#111"/>
<path d="M366,433.2h5.4M368.7,430.5v5.4" stroke="#111" stroke-width="1.1"/>
<path d="M368.7,431.6L370.3,433.2L368.7,434.8L367.1,433.2Z" fill="#111"/>
<path d="M380.3,428.6 Q380.3,431.3 383,431.3 Q380.3,431.3 380.3,434 Q380.3,431.3 377.6,431.3 Q380.3,431.3 380.3,428.6 Z" fill="#111"/>
<path d="M377.6,431.3h5.4M380.3,428.6v5.4" stroke="#111" stroke-width="1.1"/>
<path d="M380.3,429.7L381.9,431.3L380.3,432.9L378.7,431.3Z" fill="#111"/>
<path d="M58,431.09 L59,430.38 L60,429.62 L61,428.82 L62,427.97 L63,427.07 L64,426.13 L65,425.15 L66,424.13 L67,423.07 L68,421.97 L69,420.84 L70,419.68 L71,418.48 L72,417.26 L73,416 L74,414.73 L75,413.42 L76,412.1 L77,410.75 L78,409.38 L79,408 L80,406.6 L81,405.19 L82,403.76 L83,402.32 L84,400.88 L85,399.42 L86,397.97 L87,396.5 L88,395.04 L89,393.57 L90,392.11 L91,390.65 L92,389.19 L93,387.75 L94,386.31 L95,384.89 L96,383.48 L97,382.1 L98,380.74 L99,379.41 L100,378.11 L101,376.85 L102,375.62 L103,374.44 L104,373.29 L105,372.2 L106,371.15 L107,370.16 L108,369.23 L109,368.36 L110,367.55 L111,366.81 L112,366.14 L113,365.54 L114,365.01 L115,364.56 L116,364.18 L117,363.86 L118,363.62 L119,363.45 L120,363.34 L121,363.31 L122,363.34 L123,363.43 L124,363.58 L125,363.78 L126,364.02 L127,364.31 L128,364.62 L129,364.96 L130,365.32 L131,365.7 L132,366.09 L133,366.49 L134,366.9 L135,367.33 L136,367.76 L137,368.21 L138,368.67 L139,369.14 L140,369.61 L141,370.1 L142,370.6 L143,371.1 L144,371.61 L145,372.13 L146,372.65 L147,373.19 L148,373.72 L149,374.27 L150,374.82 L151,375.37 L152,375.93 L153,376.49 L154,377.05 L155,377.62 L156,378.19 L157,378.76 L158,379.33 L159,379.9 L160,380.48 L161,381.05 L162,381.62 L163,382.2 L164,382.77 L165,383.34 L166,383.9 L167,384.47 L168,385.03 L169,385.59 L170,386.14 L171,386.69 L172,387.24 L173,387.78 L174,388.31 L175,388.84 L176,389.36 L177,389.87 L178,390.38 L179,390.87 L180,391.36 L181,391.84 L182,392.32 L183,392.78 L184,393.24 L185,393.69 L186,394.13 L187,394.56 L188,394.99 L189,395.41 L190,395.82 L191,396.23 L192,396.63 L193,397.02 L194,397.41 L195,397.79 L196,398.16 L197,398.53 L198,398.89 L199,399.24 L200,399.59 L201,399.94 L202,400.28 L203,400.61 L204,400.94 L205,401.26 L206,401.58 L207,401.9 L208,402.21 L209,402.51 L210,402.81 L211,403.11 L212,403.4 L213,403.69 L214,403.98 L215,404.26 L216,404.54 L217,404.81 L218,405.08 L219,405.35 L220,405.62 L221,405.88 L222,406.14 L223,406.4 L224,406.66 L225,406.91 L226,407.16 L227,407.41 L228,407.66 L229,407.91 L230,408.15 L231,408.39 L232,408.64 L233,408.88 L234,409.12 L235,409.35 L236,409.59 L237,409.83 L238,410.06 L239,410.29 L240,410.52 L241,410.76 L242,410.98 L243,411.21 L244,411.44 L245,411.66 L246,411.89 L247,412.11 L248,412.33 L249,412.55 L250,412.77 L251,412.98 L252,413.2 L253,413.41 L254,413.63 L255,413.84 L256,414.05 L257,414.26 L258,414.47 L259,414.67 L260,414.88 L261,415.08 L262,415.29 L263,415.49 L264,415.69 L265,415.89 L266,416.09 L267,416.28 L268,416.48 L269,416.67 L270,416.87 L271,417.06 L272,417.25 L273,417.44 L274,417.63 L275,417.82 L276,418 L277,418.19 L278,418.37 L279,418.55 L280,418.73 L281,418.91 L282,419.09 L283,419.27 L284,419.45 L285,419.62 L286,419.8 L287,419.97 L288,420.14 L289,420.31 L290,420.48 L291,420.65 L292,420.82 L293,420.98 L294,421.15 L295,421.31 L296,421.47 L297,421.63 L298,421.79 L299,421.95 L300,422.11 L301,422.27 L302,422.42 L303,422.58 L304,422.73 L305,422.88 L306,423.04 L307,423.19 L308,423.34 L309,423.48 L310,423.63 L311,423.78 L312,423.92 L313,424.06 L314,424.21 L315,424.35 L316,424.49 L317,424.63 L318,424.77 L319,424.9 L320,425.04 L321,425.17 L322,425.31 L323,425.44 L324,425.57 L325,425.7 L326,425.83 L327,425.96 L328,426.09 L329,426.22 L330,426.34 L331,426.47 L332,426.59 L333,426.71 L334,426.84 L335,426.96 L336,427.08 L337,427.2 L338,427.31 L339,427.43 L340,427.55 L341,427.66 L342,427.77 L343,427.89 L344,428 L345,428.11 L346,428.22 L347,428.33 L348,428.44 L349,428.54 L350,428.65 L351,428.75 L352,428.86 L353,428.96 L354,429.06 L355,429.16 L356,429.26 L357,429.36 L358,429.46 L359,429.56 L360,429.65 L361,429.75 L362,429.84 L363,429.94 L364,430.03 L365,430.12 L366,430.21 L367,430.3 L368,430.39 L369,430.48 L370,430.57 L371,430.66 L372,430.74 L373,430.83 L374,430.91 L375,430.99 L376,431.07 L377,431.16 L378,431.24 L379,431.32 L380,431.39 L381,431.47 L382,431.55 L383,431.63 L384,431.7" fill="none" stroke="#111" stroke-width="2" stroke-linecap="round" stroke-linejoin="round"/>
<path d="M58,427.45 L59,426.56 L60,425.56 L61,424.45 L62,423.25 L63,421.96 L64,420.58 L65,419.12 L66,417.57 L67,415.95 L68,414.27 L69,412.51 L70,410.69 L71,408.82 L72,406.89 L73,404.92 L74,402.9 L75,400.85 L76,398.75 L77,396.63 L78,394.48 L79,392.31 L80,390.13 L81,387.93 L82,385.72 L83,383.51 L84,381.3 L85,379.1 L86,376.9 L87,374.72 L88,372.56 L89,370.43 L90,368.32 L91,366.24 L92,364.2 L93,362.2 L94,360.24 L95,358.34 L96,356.49 L97,354.69 L98,352.97 L99,351.31 L100,349.72 L101,348.21 L102,346.78 L103,345.43 L104,344.17 L105,342.98 L106,341.88 L107,340.85 L108,339.9 L109,339.02 L110,338.21 L111,337.47 L112,336.8 L113,336.19 L114,335.64 L115,335.15 L116,334.73 L117,334.35 L118,334.04 L119,333.77 L120,333.55 L121,333.38 L122,333.26 L123,333.18 L124,333.15 L125,333.15 L126,333.19 L127,333.27 L128,333.39 L129,333.55 L130,333.73 L131,333.95 L132,334.2 L133,334.48 L134,334.79 L135,335.13 L136,335.49 L137,335.87 L138,336.28 L139,336.71 L140,337.16 L141,337.63 L142,338.11 L143,338.62 L144,339.13 L145,339.66 L146,340.2 L147,340.75 L148,341.31 L149,341.88 L150,342.45 L151,343.03 L152,343.61 L153,344.2 L154,344.78 L155,345.37 L156,345.95 L157,346.53 L158,347.1 L159,347.67 L160,348.24 L161,348.8 L162,349.35 L163,349.9 L164,350.45 L165,350.99 L166,351.53 L167,352.07 L168,352.6 L169,353.12 L170,353.65 L171,354.16 L172,354.68 L173,355.19 L174,355.69 L175,356.19 L176,356.69 L177,357.19 L178,357.68 L179,358.16 L180,358.64 L181,359.12 L182,359.6 L183,360.07 L184,360.54 L185,361 L186,361.46 L187,361.92 L188,362.37 L189,362.82 L190,363.27 L191,363.71 L192,364.15 L193,364.58 L194,365.02 L195,365.44 L196,365.87 L197,366.29 L198,366.71 L199,367.13 L200,367.54 L201,367.95 L202,368.36 L203,368.77 L204,369.17 L205,369.57 L206,369.96 L207,370.35 L208,370.74 L209,371.13 L210,371.51 L211,371.9 L212,372.27 L213,372.65 L214,373.02 L215,373.4 L216,373.76 L217,374.13 L218,374.49 L219,374.85 L220,375.21 L221,375.57 L222,375.92 L223,376.27 L224,376.62 L225,376.97 L226,377.31 L227,377.66 L228,378 L229,378.34 L230,378.67 L231,379.01 L232,379.34 L233,379.67 L234,380 L235,380.32 L236,380.65 L237,380.97 L238,381.29 L239,381.61 L240,381.93 L241,382.24 L242,382.56 L243,382.87 L244,383.18 L245,383.49 L246,383.8 L247,384.1 L248,384.41 L249,384.71 L250,385.02 L251,385.32 L252,385.62 L253,385.91 L254,386.21 L255,386.51 L256,386.8 L257,387.09 L258,387.39 L259,387.68 L260,387.97 L261,388.26 L262,388.55 L263,388.83 L264,389.12 L265,389.41 L266,389.69 L267,389.98 L268,390.26 L269,390.54 L270,390.82 L271,391.1 L272,391.39 L273,391.66 L274,391.94 L275,392.22 L276,392.5 L277,392.78 L278,393.05 L279,393.33 L280,393.6 L281,393.87 L282,394.15 L283,394.42 L284,394.69 L285,394.96 L286,395.23 L287,395.5 L288,395.76 L289,396.03 L290,396.29 L291,396.56 L292,396.82 L293,397.08 L294,397.34 L295,397.6 L296,397.86 L297,398.12 L298,398.37 L299,398.63 L300,398.88 L301,399.14 L302,399.39 L303,399.64 L304,399.89 L305,400.14 L306,400.38 L307,400.63 L308,400.87 L309,401.11 L310,401.36 L311,401.6 L312,401.84 L313,402.07 L314,402.31 L315,402.54 L316,402.78 L317,403.01 L318,403.24 L319,403.47 L320,403.7 L321,403.92 L322,404.15 L323,404.37 L324,404.59 L325,404.81 L326,405.03 L327,405.25 L328,405.46 L329,405.68 L330,405.89 L331,406.1 L332,406.31 L333,406.51 L334,406.72 L335,406.92 L336,407.12 L337,407.32 L338,407.52 L339,407.72 L340,407.91 L341,408.11 L342,408.3 L343,408.49 L344,408.68 L345,408.86 L346,409.04 L347,409.23 L348,409.41 L349,409.58 L350,409.76 L351,409.93 L352,410.11 L353,410.28 L354,410.45 L355,410.61 L356,410.78 L357,410.94 L358,411.1 L359,411.26 L360,411.41 L361,411.57 L362,411.72 L363,411.87 L364,412.01 L365,412.16 L366,412.3 L367,412.44 L368,412.58 L369,412.72 L370,412.85 L371,412.98 L372,413.11 L373,413.24 L374,413.37 L375,413.49 L376,413.61 L377,413.73 L378,413.84 L379,413.95 L380,414.07 L381,414.17 L382,414.28 L383,414.38 L384,414.48" fill="none" stroke="#3aa535" stroke-width="2" stroke-linecap="round" stroke-linejoin="round"/>
<path d="M58,425.99 L59,425.28 L60,424.43 L61,423.44 L62,422.31 L63,421.05 L64,419.68 L65,418.18 L66,416.57 L67,414.85 L68,413.03 L69,411.11 L70,409.11 L71,407.01 L72,404.84 L73,402.59 L74,400.27 L75,397.89 L76,395.45 L77,392.95 L78,390.41 L79,387.82 L80,385.2 L81,382.54 L82,379.86 L83,377.15 L84,374.43 L85,371.7 L86,368.96 L87,366.22 L88,363.49 L89,360.77 L90,358.07 L91,355.41 L92,352.78 L93,350.21 L94,347.7 L95,345.26 L96,342.89 L97,340.6 L98,338.38 L99,336.24 L100,334.18 L101,332.21 L102,330.32 L103,328.52 L104,326.82 L105,325.19 L106,323.66 L107,322.2 L108,320.83 L109,319.54 L110,318.33 L111,317.19 L112,316.13 L113,315.14 L114,314.22 L115,313.37 L116,312.59 L117,311.88 L118,311.23 L119,310.64 L120,310.12 L121,309.65 L122,309.25 L123,308.89 L124,308.6 L125,308.36 L126,308.17 L127,308.03 L128,307.93 L129,307.89 L130,307.88 L131,307.92 L132,308.01 L133,308.13 L134,308.29 L135,308.49 L136,308.72 L137,308.98 L138,309.28 L139,309.6 L140,309.96 L141,310.34 L142,310.74 L143,311.17 L144,311.62 L145,312.09 L146,312.57 L147,313.08 L148,313.59 L149,314.13 L150,314.67 L151,315.22 L152,315.78 L153,316.35 L154,316.92 L155,317.49 L156,318.06 L157,318.64 L158,319.21 L159,319.78 L160,320.34 L161,320.9 L162,321.45 L163,322 L164,322.54 L165,323.08 L166,323.61 L167,324.13 L168,324.65 L169,325.17 L170,325.68 L171,326.19 L172,326.69 L173,327.18 L174,327.68 L175,328.17 L176,328.65 L177,329.13 L178,329.61 L179,330.08 L180,330.55 L181,331.02 L182,331.48 L183,331.94 L184,332.39 L185,332.85 L186,333.3 L187,333.74 L188,334.19 L189,334.63 L190,335.07 L191,335.51 L192,335.94 L193,336.38 L194,336.81 L195,337.24 L196,337.66 L197,338.09 L198,338.51 L199,338.94 L200,339.36 L201,339.78 L202,340.2 L203,340.62 L204,341.03 L205,341.45 L206,341.87 L207,342.28 L208,342.7 L209,343.11 L210,343.53 L211,343.94 L212,344.36 L213,344.77 L214,345.19 L215,345.6 L216,346.02 L217,346.44 L218,346.85 L219,347.27 L220,347.69 L221,348.11 L222,348.53 L223,348.96 L224,349.38 L225,349.8 L226,350.23 L227,350.65 L228,351.08 L229,351.51 L230,351.93 L231,352.36 L232,352.79 L233,353.21 L234,353.64 L235,354.07 L236,354.49 L237,354.92 L238,355.34 L239,355.77 L240,356.19 L241,356.62 L242,357.04 L243,357.46 L244,357.88 L245,358.3 L246,358.72 L247,359.14 L248,359.55 L249,359.97 L250,360.38 L251,360.79 L252,361.2 L253,361.61 L254,362.02 L255,362.42 L256,362.82 L257,363.22 L258,363.62 L259,364.01 L260,364.4 L261,364.79 L262,365.18 L263,365.57 L264,365.95 L265,366.33 L266,366.7 L267,367.07 L268,367.44 L269,367.81 L270,368.17 L271,368.53 L272,368.89 L273,369.24 L274,369.59 L275,369.93 L276,370.28 L277,370.62 L278,370.95 L279,371.29 L280,371.62 L281,371.95 L282,372.27 L283,372.59 L284,372.91 L285,373.23 L286,373.54 L287,373.85 L288,374.16 L289,374.47 L290,374.77 L291,375.07 L292,375.37 L293,375.66 L294,375.96 L295,376.25 L296,376.54 L297,376.82 L298,377.1 L299,377.39 L300,377.67 L301,377.94 L302,378.22 L303,378.49 L304,378.76 L305,379.03 L306,379.3 L307,379.56 L308,379.82 L309,380.08 L310,380.34 L311,380.6 L312,380.86 L313,381.11 L314,381.36 L315,381.61 L316,381.86 L317,382.11 L318,382.35 L319,382.6 L320,382.84 L321,383.08 L322,383.32 L323,383.56 L324,383.8 L325,384.04 L326,384.27 L327,384.51 L328,384.74 L329,384.97 L330,385.2 L331,385.43 L332,385.66 L333,385.89 L334,386.11 L335,386.34 L336,386.56 L337,386.79 L338,387.01 L339,387.23 L340,387.46 L341,387.68 L342,387.9 L343,388.12 L344,388.34 L345,388.56 L346,388.78 L347,389 L348,389.21 L349,389.43 L350,389.65 L351,389.87 L352,390.08 L353,390.3 L354,390.52 L355,390.73 L356,390.95 L357,391.17 L358,391.38 L359,391.6 L360,391.82 L361,392.03 L362,392.25 L363,392.47 L364,392.69 L365,392.9 L366,393.12 L367,393.34 L368,393.56 L369,393.78 L370,394 L371,394.22 L372,394.44 L373,394.66 L374,394.88 L375,395.11 L376,395.33 L377,395.56 L378,395.78 L379,396.01 L380,396.23 L381,396.46 L382,396.69 L383,396.92 L384,397.15" fill="none" stroke="#1f5fb8" stroke-width="2" stroke-linecap="round" stroke-linejoin="round"/>
<path d="M58,424.8 L59,423.06 L60,421.41 L61,419.83 L62,418.3 L63,416.79 L64,415.29 L65,413.78 L66,412.22 L67,410.59 L68,408.88 L69,407.06 L70,405.11 L71,403.01 L72,400.76 L73,398.37 L74,395.86 L75,393.22 L76,390.47 L77,387.61 L78,384.66 L79,381.62 L80,378.49 L81,375.29 L82,372.03 L83,368.71 L84,365.34 L85,361.92 L86,358.48 L87,355.01 L88,351.52 L89,348.02 L90,344.52 L91,341.02 L92,337.53 L93,334.06 L94,330.61 L95,327.2 L96,323.84 L97,320.52 L98,317.25 L99,314.05 L100,310.92 L101,307.87 L102,304.91 L103,302.04 L104,299.26 L105,296.6 L106,294.04 L107,291.58 L108,289.23 L109,286.98 L110,284.82 L111,282.77 L112,280.81 L113,278.94 L114,277.17 L115,275.49 L116,273.9 L117,272.4 L118,270.99 L119,269.66 L120,268.42 L121,267.26 L122,266.2 L123,265.24 L124,264.4 L125,263.68 L126,263.09 L127,262.63 L128,262.29 L129,262.07 L130,261.95 L131,261.94 L132,262.02 L133,262.19 L134,262.43 L135,262.75 L136,263.13 L137,263.58 L138,264.08 L139,264.62 L140,265.2 L141,265.81 L142,266.45 L143,267.13 L144,267.84 L145,268.59 L146,269.37 L147,270.18 L148,271.04 L149,271.93 L150,272.85 L151,273.82 L152,274.82 L153,275.87 L154,276.95 L155,278.08 L156,279.25 L157,280.45 L158,281.68 L159,282.93 L160,284.21 L161,285.5 L162,286.81 L163,288.12 L164,289.44 L165,290.76 L166,292.07 L167,293.37 L168,294.66 L169,295.93 L170,297.18 L171,298.4 L172,299.6 L173,300.78 L174,301.94 L175,303.08 L176,304.2 L177,305.3 L178,306.38 L179,307.44 L180,308.48 L181,309.51 L182,310.52 L183,311.51 L184,312.48 L185,313.44 L186,314.38 L187,315.31 L188,316.23 L189,317.13 L190,318.01 L191,318.89 L192,319.75 L193,320.6 L194,321.43 L195,322.26 L196,323.07 L197,323.88 L198,324.67 L199,325.46 L200,326.24 L201,327.01 L202,327.77 L203,328.52 L204,329.27 L205,330.01 L206,330.74 L207,331.47 L208,332.2 L209,332.92 L210,333.63 L211,334.35 L212,335.06 L213,335.76 L214,336.47 L215,337.17 L216,337.87 L217,338.58 L218,339.28 L219,339.98 L220,340.68 L221,341.38 L222,342.09 L223,342.79 L224,343.5 L225,344.21 L226,344.91 L227,345.62 L228,346.32 L229,347.03 L230,347.73 L231,348.44 L232,349.14 L233,349.84 L234,350.54 L235,351.24 L236,351.93 L237,352.63 L238,353.32 L239,354.01 L240,354.69 L241,355.37 L242,356.05 L243,356.72 L244,357.39 L245,358.06 L246,358.72 L247,359.38 L248,360.03 L249,360.68 L250,361.32 L251,361.96 L252,362.59 L253,363.22 L254,363.84 L255,364.45 L256,365.05 L257,365.65 L258,366.25 L259,366.83 L260,367.41 L261,367.98 L262,368.54 L263,369.09 L264,369.64 L265,370.18 L266,370.71 L267,371.22 L268,371.73 L269,372.23 L270,372.73 L271,373.21 L272,373.68 L273,374.14 L274,374.6 L275,375.05 L276,375.49 L277,375.92 L278,376.35 L279,376.77 L280,377.19 L281,377.6 L282,378 L283,378.4 L284,378.8 L285,379.19 L286,379.58 L287,379.97 L288,380.35 L289,380.73 L290,381.11 L291,381.49 L292,381.86 L293,382.24 L294,382.61 L295,382.98 L296,383.36 L297,383.73 L298,384.1 L299,384.47 L300,384.84 L301,385.21 L302,385.58 L303,385.95 L304,386.32 L305,386.69 L306,387.05 L307,387.42 L308,387.79 L309,388.15 L310,388.51 L311,388.88 L312,389.24 L313,389.6 L314,389.96 L315,390.32 L316,390.67 L317,391.03 L318,391.38 L319,391.74 L320,392.09 L321,392.44 L322,392.79 L323,393.14 L324,393.49 L325,393.83 L326,394.18 L327,394.52 L328,394.87 L329,395.21 L330,395.55 L331,395.88 L332,396.22 L333,396.55 L334,396.89 L335,397.22 L336,397.55 L337,397.88 L338,398.2 L339,398.53 L340,398.85 L341,399.17 L342,399.49 L343,399.81 L344,400.12 L345,400.43 L346,400.75 L347,401.05 L348,401.36 L349,401.67 L350,401.97 L351,402.27 L352,402.57 L353,402.87 L354,403.16 L355,403.45 L356,403.74 L357,404.03 L358,404.32 L359,404.6 L360,404.88 L361,405.16 L362,405.44 L363,405.71 L364,405.98 L365,406.25 L366,406.52 L367,406.78 L368,407.04 L369,407.3 L370,407.55 L371,407.81 L372,408.06 L373,408.3 L374,408.55 L375,408.79 L376,409.03 L377,409.27 L378,409.5 L379,409.73 L380,409.96 L381,410.18 L382,410.4 L383,410.62 L384,410.83" fill="none" stroke="#e8141c" stroke-width="2" stroke-linecap="round" stroke-linejoin="round"/>
</g>
<path d="M57.7,252.2 H385 V441.2 H57.7 Z" fill="none" stroke="#1c1c22" stroke-width="1.8"/>
<line x1="58" y1="393.5" x2="67" y2="393.5" stroke="#444" stroke-width="1" />
<line x1="381" y1="393.5" x2="385" y2="393.5" stroke="#444" stroke-width="1" />
<line x1="58" y1="346.5" x2="67" y2="346.5" stroke="#444" stroke-width="1" />
<line x1="381" y1="346.5" x2="385" y2="346.5" stroke="#444" stroke-width="1" />
<line x1="58" y1="299.5" x2="67" y2="299.5" stroke="#444" stroke-width="1" />
<line x1="381" y1="299.5" x2="385" y2="299.5" stroke="#444" stroke-width="1" />
<text x="55" y="445.4" font-size="13.4" text-anchor="end" fill="#2e2e2e" font-weight="normal" font-style="normal" >1</text>
<text x="55" y="398.3" font-size="13.4" text-anchor="end" fill="#2e2e2e" font-weight="normal" font-style="normal" >1.5</text>
<text x="55" y="351.2" font-size="13.4" text-anchor="end" fill="#2e2e2e" font-weight="normal" font-style="normal" >2</text>
<text x="55" y="304.1" font-size="13.4" text-anchor="end" fill="#2e2e2e" font-weight="normal" font-style="normal" >2.5</text>
<text x="55" y="257" font-size="13.4" text-anchor="end" fill="#2e2e2e" font-weight="normal" font-style="normal" >3</text>
<line x1="131.5" y1="441" x2="131.5" y2="433" stroke="#444" stroke-width="1" />
<line x1="215.5" y1="441" x2="215.5" y2="433" stroke="#444" stroke-width="1" />
<line x1="300.5" y1="441" x2="300.5" y2="433" stroke="#444" stroke-width="1" />
<line x1="63.5" y1="441" x2="63.5" y2="438" stroke="#444" stroke-width="1" />
<line x1="71.5" y1="441" x2="71.5" y2="438" stroke="#444" stroke-width="1" />
<line x1="80.5" y1="441" x2="80.5" y2="438" stroke="#444" stroke-width="1" />
<line x1="88.5" y1="441" x2="88.5" y2="438" stroke="#444" stroke-width="1" />
<line x1="97.5" y1="441" x2="97.5" y2="438" stroke="#444" stroke-width="1" />
<line x1="105.5" y1="441" x2="105.5" y2="438" stroke="#444" stroke-width="1" />
<line x1="114.5" y1="441" x2="114.5" y2="438" stroke="#444" stroke-width="1" />
<line x1="122.5" y1="441" x2="122.5" y2="438" stroke="#444" stroke-width="1" />
<line x1="139.5" y1="441" x2="139.5" y2="438" stroke="#444" stroke-width="1" />
<line x1="148.5" y1="441" x2="148.5" y2="438" stroke="#444" stroke-width="1" />
<line x1="156.5" y1="441" x2="156.5" y2="438" stroke="#444" stroke-width="1" />
<line x1="165.5" y1="441" x2="165.5" y2="438" stroke="#444" stroke-width="1" />
<line x1="173.5" y1="441" x2="173.5" y2="438" stroke="#444" stroke-width="1" />
<line x1="181.5" y1="441" x2="181.5" y2="438" stroke="#444" stroke-width="1" />
<line x1="190.5" y1="441" x2="190.5" y2="438" stroke="#444" stroke-width="1" />
<line x1="198.5" y1="441" x2="198.5" y2="438" stroke="#444" stroke-width="1" />
<line x1="207.5" y1="441" x2="207.5" y2="438" stroke="#444" stroke-width="1" />
<line x1="224.5" y1="441" x2="224.5" y2="438" stroke="#444" stroke-width="1" />
<line x1="232.5" y1="441" x2="232.5" y2="438" stroke="#444" stroke-width="1" />
<line x1="241.5" y1="441" x2="241.5" y2="438" stroke="#444" stroke-width="1" />
<line x1="249.5" y1="441" x2="249.5" y2="438" stroke="#444" stroke-width="1" />
<line x1="258.5" y1="441" x2="258.5" y2="438" stroke="#444" stroke-width="1" />
<line x1="266.5" y1="441" x2="266.5" y2="438" stroke="#444" stroke-width="1" />
<line x1="275.5" y1="441" x2="275.5" y2="438" stroke="#444" stroke-width="1" />
<line x1="283.5" y1="441" x2="283.5" y2="438" stroke="#444" stroke-width="1" />
<line x1="292.5" y1="441" x2="292.5" y2="438" stroke="#444" stroke-width="1" />
<line x1="309.5" y1="441" x2="309.5" y2="438" stroke="#444" stroke-width="1" />
<line x1="317.5" y1="441" x2="317.5" y2="438" stroke="#444" stroke-width="1" />
<line x1="326.5" y1="441" x2="326.5" y2="438" stroke="#444" stroke-width="1" />
<line x1="334.5" y1="441" x2="334.5" y2="438" stroke="#444" stroke-width="1" />
<line x1="343.5" y1="441" x2="343.5" y2="438" stroke="#444" stroke-width="1" />
<line x1="351.5" y1="441" x2="351.5" y2="438" stroke="#444" stroke-width="1" />
<line x1="360.5" y1="441" x2="360.5" y2="438" stroke="#444" stroke-width="1" />
<line x1="368.5" y1="441" x2="368.5" y2="438" stroke="#444" stroke-width="1" />
<line x1="377.5" y1="441" x2="377.5" y2="438" stroke="#444" stroke-width="1" />
<text x="57.4" y="454.6" font-size="13.5" text-anchor="middle" fill="#2e2e2e" font-weight="normal" font-style="normal" >0</text>
<text x="131.2" y="454.6" font-size="13.5" text-anchor="middle" fill="#2e2e2e" font-weight="normal" font-style="normal" textLength="32.7" lengthAdjust="spacingAndGlyphs" >0.005</text>
<text x="214.6" y="454.6" font-size="13.5" text-anchor="middle" fill="#2e2e2e" font-weight="normal" font-style="normal" textLength="24.4" lengthAdjust="spacingAndGlyphs" >0.01</text>
<text x="300.8" y="454.6" font-size="13.5" text-anchor="middle" fill="#2e2e2e" font-weight="normal" font-style="normal" textLength="30.7" lengthAdjust="spacingAndGlyphs" >0.015</text>
<text x="374.1" y="454.6" font-size="13.5" text-anchor="middle" fill="#2e2e2e" font-weight="normal" font-style="normal" textLength="23.8" lengthAdjust="spacingAndGlyphs" >0.02</text>
<line x1="67.5" y1="252" x2="67.5" y2="261" stroke="#444" stroke-width="1" />
<text x="67.7" y="247.3" font-size="13.6" text-anchor="middle" fill="#2e2e2e" font-weight="normal" font-style="normal" >800</text>
<line x1="106.5" y1="252" x2="106.5" y2="261" stroke="#444" stroke-width="1" />
<text x="106.6" y="247.3" font-size="13.6" text-anchor="middle" fill="#2e2e2e" font-weight="normal" font-style="normal" >200</text>
<line x1="158.5" y1="252" x2="158.5" y2="261" stroke="#444" stroke-width="1" />
<text x="159" y="247.3" font-size="13.6" text-anchor="middle" fill="#2e2e2e" font-weight="normal" font-style="normal" >100</text>
<line x1="202.5" y1="252" x2="202.5" y2="261" stroke="#444" stroke-width="1" />
<text x="203.4" y="247.3" font-size="13.6" text-anchor="middle" fill="#2e2e2e" font-weight="normal" font-style="normal" >70</text>
<line x1="262.5" y1="252" x2="262.5" y2="261" stroke="#444" stroke-width="1" />
<text x="262" y="247.3" font-size="13.6" text-anchor="middle" fill="#2e2e2e" font-weight="normal" font-style="normal" >50</text>
<line x1="314.5" y1="252" x2="314.5" y2="261" stroke="#444" stroke-width="1" />
<text x="315" y="247.3" font-size="13.6" text-anchor="middle" fill="#2e2e2e" font-weight="normal" font-style="normal" >40</text>
<line x1="350.5" y1="252" x2="350.5" y2="261" stroke="#444" stroke-width="1" />
<text x="350.2" y="247.3" font-size="13.6" text-anchor="middle" fill="#2e2e2e" font-weight="normal" font-style="normal" >35</text>
<rect x="220" y="253.3" width="180" height="59" fill="#ffffff"/>
<line x1="220.3" y1="253.3" x2="220.3" y2="312" stroke="#dddddd" stroke-width="0.8" />
<path d="M400.5,253.5 V312.8 H221" fill="none" stroke="#e6e6e6" stroke-width="1"/>
<line x1="223.1" y1="263.1" x2="238" y2="263.1" stroke="#111" stroke-width="1.1" />
<path d="M230.5,261.2 L232.3,263.1 L230.5,265 L228.7,263.1 Z" fill="#111"/>
<text x="240.9" y="266.9" font-size="13.2" fill="#2e2e2e" textLength="58.6" lengthAdjust="spacing">t = 0.4 &#956;s</text>
<text x="311.6" y="266.9" font-size="13.2" fill="#2e2e2e" textLength="80.4" lengthAdjust="spacing">&#915; = 141.9 nm</text>
<line x1="223.1" y1="277" x2="238" y2="277" stroke="#e8141c" stroke-width="1.1" />
<circle cx="230.5" cy="277" r="2" fill="#fff" stroke="#e8141c" stroke-width="1"/>
<text x="240.9" y="280.8" font-size="13.2" fill="#2e2e2e" textLength="58.6" lengthAdjust="spacing">t = 1.1 &#956;s</text>
<text x="311.6" y="280.8" font-size="13.2" fill="#2e2e2e" textLength="80.4" lengthAdjust="spacing">&#915; = 127.5 nm</text>
<line x1="223.1" y1="291.1" x2="238" y2="291.1" stroke="#1f5fb8" stroke-width="1.1" />
<line x1="230.5" y1="288.3" x2="230.5" y2="293.9" stroke="#1f5fb8" stroke-width="1" />
<text x="240.9" y="294.9" font-size="13.2" fill="#2e2e2e" textLength="58.6" lengthAdjust="spacing">t = 9.0 &#956;s</text>
<text x="311.6" y="294.9" font-size="13.2" fill="#2e2e2e" textLength="80.4" lengthAdjust="spacing">&#915; = 128.0 nm</text>
<line x1="223.1" y1="305.1" x2="238" y2="305.1" stroke="#3aa535" stroke-width="1.1" />
<path d="M228.3,306.5 L230.5,302.7 L232.7,306.5 Z" fill="none" stroke="#3aa535" stroke-width="0.9"/>
<text x="240.9" y="308.9" font-size="13.2" fill="#2e2e2e" textLength="54.2" lengthAdjust="spacing">t = 13 &#956;s</text>
<text x="311.6" y="308.9" font-size="13.2" fill="#2e2e2e" textLength="80.4" lengthAdjust="spacing">&#915; = 141.0 nm</text>
<text x="195" y="473" font-size="13.8" text-anchor="start" fill="#222" font-weight="normal" font-style="normal" stroke="#222" stroke-width="0.5">q<tspan font-size="9.5" dy="2.5">r</tspan><tspan dy="-2.5"> [&#197;</tspan><tspan font-size="9.5" dy="-5" dx="0.5" letter-spacing="0.6">&#8722;1</tspan><tspan dy="5" dx="0.4">]</tspan></text>
<text transform="translate(25.2,403.4) rotate(-90)" x="0" y="0" font-size="13.2" fill="#222" stroke="#222" stroke-width="0.1" textLength="113.4" lengthAdjust="spacingAndGlyphs">Relative intensity</text>
<text y="261.5" font-size="18" fill="#e8141c" stroke="#e8141c" stroke-width="0.8"><tspan x="20.5">(</tspan><tspan x="26">b</tspan><tspan x="35.3">)</tspan></text>
</svg>
</body></html>
